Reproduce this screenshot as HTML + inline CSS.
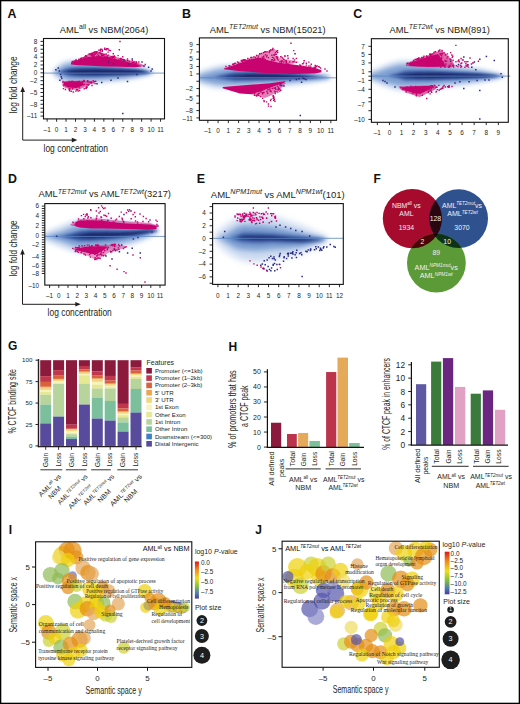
<!DOCTYPE html><html><head><meta charset="utf-8"><style>html,body{margin:0;padding:0;background:#fff;width:520px;height:704px;overflow:hidden}svg{display:block}</style></head><body>
<svg width="520" height="704" viewBox="0 0 520 704" font-family="'Liberation Sans', sans-serif" fill="#231f20">
<defs>
<filter id="bl1_3" x="-20%" y="-50%" width="140%" height="200%"><feGaussianBlur stdDeviation="1.3"/></filter>
<filter id="bl1_5" x="-20%" y="-50%" width="140%" height="200%"><feGaussianBlur stdDeviation="1.5"/></filter>
<filter id="bl1_6" x="-20%" y="-50%" width="140%" height="200%"><feGaussianBlur stdDeviation="1.6"/></filter>
<filter id="bl1_8" x="-20%" y="-50%" width="140%" height="200%"><feGaussianBlur stdDeviation="1.8"/></filter>
<filter id="bl2" x="-20%" y="-50%" width="140%" height="200%"><feGaussianBlur stdDeviation="2"/></filter>
<filter id="bl2_2" x="-20%" y="-50%" width="140%" height="200%"><feGaussianBlur stdDeviation="2.2"/></filter>
<filter id="bl2_5" x="-20%" y="-50%" width="140%" height="200%"><feGaussianBlur stdDeviation="2.5"/></filter>
<filter id="bl3" x="-20%" y="-50%" width="140%" height="200%"><feGaussianBlur stdDeviation="3"/></filter>
<filter id="bl3_5" x="-20%" y="-50%" width="140%" height="200%"><feGaussianBlur stdDeviation="3.5"/></filter>
</defs>
<rect width="520" height="704" fill="#fff"/>
<clipPath id="clipA"><rect x="43.5" y="38.5" width="121" height="80.4"/></clipPath>
<g clip-path="url(#clipA)">
<polygon points="53,70.5 57,66.2 61,63 66,61 72,60 80,60 95,61 110,62 125,63.5 138,66 145,68.2 150,70.5 154,72.3 154,73.3 150,74.5 145,76.2 138,78 125,80.5 110,82 95,83 80,84 72,84 66,83 61,81 57,78.2 53,74.5" fill="#cad9ef" filter="url(#bl2_5)"/>
<polygon points="53,72.5 57,70.2 61,67 66,64.5 72,63.5 80,63.5 95,64 110,65 125,66 138,68 145,69.7 150,71.5 154,72.8 154,72.8 150,73.5 145,74.7 138,76 125,78 110,79 95,80 80,80.5 72,80.5 66,79.5 61,77 57,74.2 53,72.5" fill="#7fa0d3" filter="url(#bl2)"/>
<polygon points="53,72.5 57,72.2 61,71.15 66,69.03 72,67.75 80,67.33 95,67.33 110,67.75 125,68.6 138,69.45 145,70.92 150,72.25 154,72.8 154,72.8 150,72.75 145,73.48 138,74.55 125,75.4 110,76.25 95,76.67 80,76.67 72,76.25 66,74.97 61,72.85 57,72.2 53,72.5" fill="#34549e" filter="url(#bl1_6)"/>
<polygon points="53,72.5 57,72.2 61,72 66,71.67 72,70.38 80,69.72 95,69.53 110,69.72 125,70.05 138,70.7 145,71.68 150,72.5 154,72.8 154,72.8 150,72.5 145,72.72 138,73.3 125,73.95 110,74.28 95,74.47 80,74.28 72,73.62 66,72.33 61,72 57,72.2 53,72.5" fill="#1c2767" filter="url(#bl1_3)"/>
</g>
<line x1="43.5" y1="73.1" x2="164.5" y2="73.1" stroke="#5b86c5" stroke-width="0.8"/>
<g clip-path="url(#clipA)">
<polygon points="80,59 88,54 96,51 100,52 105,54 112,56 122,58.5 132,61 140,63.5 146,66 142,66.5 130,62.5 110,57.5 100,56 90,56.5" fill="#c8036f" fill-opacity="0.6"/>
<polygon points="63,81 85,80.5 93,81 90,84 84,87.5 78,90 70,89.5 63,87" fill="#c8036f" fill-opacity="0.55"/>
<polygon points="71,63 80,59 90,56.5 100,56 110,57.5 120,60 130,62.5 138,64.5 142,66.5 135,67.2 120,66.8 105,66.5 90,65.8 78,65.2 71,64.5" fill="#c8036f"/>
<polygon points="64,82 72,81.3 80,81.5 84,82.5 82,86 76,88 68,87.5 64,85.5" fill="#c8036f"/>
<path d="M119.3 40.8h1.4v1.4h-1.4zM118.6 49h1.4v1.4h-1.4zM117.4 54.9h1.4v1.4h-1.4zM112.3 59.3h1.4v1.4h-1.4zM107.3 48.3h1.4v1.4h-1.4zM81.19 57.2h1.4v1.4h-1.4zM72.85 60.84h1.4v1.4h-1.4zM72.32 60.73h1.4v1.4h-1.4zM84.92 54.93h1.4v1.4h-1.4zM85.36 55.1h1.4v1.4h-1.4zM78.17 59.07h1.4v1.4h-1.4zM90.22 53.57h1.4v1.4h-1.4zM72.27 61.16h1.4v1.4h-1.4zM74.92 59.66h1.4v1.4h-1.4zM98.3 49.45h1.4v1.4h-1.4zM92.34 52.18h1.4v1.4h-1.4zM72.04 60.83h1.4v1.4h-1.4zM93.84 51.3h1.4v1.4h-1.4zM90.57 52.77h1.4v1.4h-1.4zM98.06 49.45h1.4v1.4h-1.4zM90.26 53.51h1.4v1.4h-1.4zM95.4 51.2h1.4v1.4h-1.4zM74.32 60.52h1.4v1.4h-1.4zM75.56 59.27h1.4v1.4h-1.4zM93.75 51.75h1.4v1.4h-1.4zM100.49 48.64h1.4v1.4h-1.4zM91 52.78h1.4v1.4h-1.4zM99.89 48.97h1.4v1.4h-1.4zM92.91 51.94h1.4v1.4h-1.4zM93.25 52.33h1.4v1.4h-1.4zM80.06 57.83h1.4v1.4h-1.4zM71.04 61.42h1.4v1.4h-1.4zM73.92 60.54h1.4v1.4h-1.4zM74.54 59.97h1.4v1.4h-1.4zM100.12 48.46h1.4v1.4h-1.4zM89.75 53.85h1.4v1.4h-1.4zM100.06 48.54h1.4v1.4h-1.4zM83.13 56.96h1.4v1.4h-1.4zM75.21 59.48h1.4v1.4h-1.4zM78.38 58.55h1.4v1.4h-1.4zM105.46 53.26h1.4v1.4h-1.4zM119.77 58.63h1.4v1.4h-1.4zM131.46 62.1h1.4v1.4h-1.4zM104.03 48.61h1.4v1.4h-1.4zM100.31 53.17h1.4v1.4h-1.4zM85.86 56.31h1.4v1.4h-1.4zM101.7 49.72h1.4v1.4h-1.4zM133.34 61.12h1.4v1.4h-1.4zM112.57 53.02h1.4v1.4h-1.4zM95.42 51.34h1.4v1.4h-1.4zM101.55 50.66h1.4v1.4h-1.4zM90.01 57.72h1.4v1.4h-1.4zM109.82 58.23h1.4v1.4h-1.4zM131.63 59.93h1.4v1.4h-1.4zM109.72 49.92h1.4v1.4h-1.4zM103.8 53.82h1.4v1.4h-1.4zM122.08 56.02h1.4v1.4h-1.4zM138.07 61.26h1.4v1.4h-1.4zM96.39 51.01h1.4v1.4h-1.4zM105.47 49.09h1.4v1.4h-1.4zM108.29 57.01h1.4v1.4h-1.4zM113.59 55.96h1.4v1.4h-1.4zM109.39 59.49h1.4v1.4h-1.4zM112.62 56.52h1.4v1.4h-1.4zM111.86 56.63h1.4v1.4h-1.4zM107.21 57.52h1.4v1.4h-1.4zM111.7 55.76h1.4v1.4h-1.4zM113.7 55.17h1.4v1.4h-1.4zM93.99 56.59h1.4v1.4h-1.4zM107.13 48.07h1.4v1.4h-1.4zM123.5 60.52h1.4v1.4h-1.4zM126.86 58.35h1.4v1.4h-1.4zM106.37 55.82h1.4v1.4h-1.4zM99.72 50.23h1.4v1.4h-1.4zM98.23 59.44h1.4v1.4h-1.4zM99.17 57.72h1.4v1.4h-1.4zM105.92 48.07h1.4v1.4h-1.4zM99.72 56.48h1.4v1.4h-1.4zM84.6 56.02h1.4v1.4h-1.4zM96.18 55.55h1.4v1.4h-1.4zM106.42 55.46h1.4v1.4h-1.4zM111.78 58.84h1.4v1.4h-1.4zM135.87 62.03h1.4v1.4h-1.4zM92.74 51.93h1.4v1.4h-1.4zM108.38 49.56h1.4v1.4h-1.4zM107.4 51.41h1.4v1.4h-1.4zM144.55 63.82h1.4v1.4h-1.4zM102.78 55.11h1.4v1.4h-1.4zM104.06 47.53h1.4v1.4h-1.4zM92.06 57.05h1.4v1.4h-1.4zM113.4 59.93h1.4v1.4h-1.4zM122.64 59.33h1.4v1.4h-1.4zM135.44 62.41h1.4v1.4h-1.4zM120.47 59.64h1.4v1.4h-1.4zM113.01 55.63h1.4v1.4h-1.4zM135.42 60.88h1.4v1.4h-1.4zM101.27 48.64h1.4v1.4h-1.4zM120.5 57.76h1.4v1.4h-1.4zM113.83 58.34h1.4v1.4h-1.4zM94.42 59.56h1.4v1.4h-1.4zM124.98 60.44h1.4v1.4h-1.4zM109.97 57.3h1.4v1.4h-1.4zM97.03 53.45h1.4v1.4h-1.4zM111.75 57.06h1.4v1.4h-1.4zM99.23 52.41h1.4v1.4h-1.4zM102 55.04h1.4v1.4h-1.4zM107.55 54.43h1.4v1.4h-1.4zM91.83 55.9h1.4v1.4h-1.4zM101.98 54.77h1.4v1.4h-1.4zM89.97 53.42h1.4v1.4h-1.4zM88.51 53.19h1.4v1.4h-1.4zM85.29 55.43h1.4v1.4h-1.4zM106.54 56.51h1.4v1.4h-1.4zM113.9 55.95h1.4v1.4h-1.4zM93.55 54.37h1.4v1.4h-1.4zM95.7 51.94h1.4v1.4h-1.4zM126.93 60.01h1.4v1.4h-1.4zM99.35 52.22h1.4v1.4h-1.4zM80.74 57.77h1.4v1.4h-1.4zM94.53 53.62h1.4v1.4h-1.4zM91.66 53.65h1.4v1.4h-1.4zM101.03 53.08h1.4v1.4h-1.4zM104.29 55.91h1.4v1.4h-1.4zM101.19 52.84h1.4v1.4h-1.4zM92.99 55.65h1.4v1.4h-1.4zM133.52 62.63h1.4v1.4h-1.4zM110.55 55.89h1.4v1.4h-1.4zM132.88 61.8h1.4v1.4h-1.4zM100.93 55.09h1.4v1.4h-1.4zM92.45 54.01h1.4v1.4h-1.4zM95.49 52.6h1.4v1.4h-1.4zM98.68 52.09h1.4v1.4h-1.4zM92.76 54.12h1.4v1.4h-1.4zM91.52 54.98h1.4v1.4h-1.4zM85.99 56.23h1.4v1.4h-1.4zM98 54.91h1.4v1.4h-1.4zM135.16 62.74h1.4v1.4h-1.4zM91.38 53.57h1.4v1.4h-1.4zM120.15 57.64h1.4v1.4h-1.4zM91.32 52.72h1.4v1.4h-1.4zM102.87 53.66h1.4v1.4h-1.4zM117.82 59.14h1.4v1.4h-1.4zM121.87 58.73h1.4v1.4h-1.4zM114.38 56.39h1.4v1.4h-1.4zM94.99 51.18h1.4v1.4h-1.4zM88.69 53.29h1.4v1.4h-1.4zM119.43 57.9h1.4v1.4h-1.4zM90.83 54.94h1.4v1.4h-1.4zM128.78 60.73h1.4v1.4h-1.4zM100.98 53.89h1.4v1.4h-1.4zM85.55 87.62h1.4v1.4h-1.4zM91.31 84.77h1.4v1.4h-1.4zM86.66 86.43h1.4v1.4h-1.4zM72.07 81.95h1.4v1.4h-1.4zM83.09 80.27h1.4v1.4h-1.4zM93.18 81.11h1.4v1.4h-1.4zM62.24 80.63h1.4v1.4h-1.4zM62.76 87.96h1.4v1.4h-1.4zM83.49 88.01h1.4v1.4h-1.4zM87.09 80.12h1.4v1.4h-1.4zM81.97 83.84h1.4v1.4h-1.4zM92.49 80.12h1.4v1.4h-1.4zM94.35 80.64h1.4v1.4h-1.4zM68.5 80.7h1.4v1.4h-1.4zM71.36 80.55h1.4v1.4h-1.4zM64.73 88.77h1.4v1.4h-1.4zM68.47 83.29h1.4v1.4h-1.4zM70.28 82.83h1.4v1.4h-1.4zM86.35 83.9h1.4v1.4h-1.4zM72.53 91.35h1.4v1.4h-1.4zM78.93 89.94h1.4v1.4h-1.4zM82.94 79.69h1.4v1.4h-1.4zM75.75 84.76h1.4v1.4h-1.4zM88.36 83.63h1.4v1.4h-1.4zM85.96 86.02h1.4v1.4h-1.4zM68.88 90.08h1.4v1.4h-1.4zM68.37 88.83h1.4v1.4h-1.4zM78.48 85.44h1.4v1.4h-1.4zM89.19 81.61h1.4v1.4h-1.4zM78.61 83.64h1.4v1.4h-1.4zM90.41 82.56h1.4v1.4h-1.4zM94.34 82.85h1.4v1.4h-1.4zM68.82 88.04h1.4v1.4h-1.4zM78.74 80.67h1.4v1.4h-1.4zM83.58 80.31h1.4v1.4h-1.4zM73.75 84.32h1.4v1.4h-1.4zM75.11 90.43h1.4v1.4h-1.4zM62.18 81.88h1.4v1.4h-1.4zM70.51 90.57h1.4v1.4h-1.4zM78.84 84.04h1.4v1.4h-1.4zM92.24 82.22h1.4v1.4h-1.4zM77.43 85.94h1.4v1.4h-1.4zM83.92 83.66h1.4v1.4h-1.4zM72.73 81.24h1.4v1.4h-1.4zM87.27 81.42h1.4v1.4h-1.4zM76.66 88.97h1.4v1.4h-1.4zM81.57 80.88h1.4v1.4h-1.4zM77.47 90.36h1.4v1.4h-1.4zM69.63 81.69h1.4v1.4h-1.4zM71.85 88.09h1.4v1.4h-1.4zM90.83 81.23h1.4v1.4h-1.4zM66.76 82.39h1.4v1.4h-1.4zM72.73 85.83h1.4v1.4h-1.4zM66.93 83.4h1.4v1.4h-1.4zM86.81 80.57h1.4v1.4h-1.4zM94.98 80.57h1.4v1.4h-1.4zM76.52 81.75h1.4v1.4h-1.4zM83.63 80.64h1.4v1.4h-1.4zM68.53 84.15h1.4v1.4h-1.4zM62.49 84.29h1.4v1.4h-1.4zM78.82 87.2h1.4v1.4h-1.4zM77.51 81.07h1.4v1.4h-1.4zM82.43 84.36h1.4v1.4h-1.4zM76.35 86.47h1.4v1.4h-1.4zM87.52 84.56h1.4v1.4h-1.4zM69.3 88.33h1.4v1.4h-1.4zM85.09 87.32h1.4v1.4h-1.4zM77.19 83.21h1.4v1.4h-1.4zM83.29 80.52h1.4v1.4h-1.4zM75.99 89.08h1.4v1.4h-1.4z" fill="#c8036f"/>
<path d="M55.15 68.95h1.5v1.5h-1.5zM57.55 67.25h1.5v1.5h-1.5zM58.65 70.15h1.5v1.5h-1.5zM59.85 73.65h1.5v1.5h-1.5zM60.55 75.95h1.5v1.5h-1.5zM61.05 77.65h1.5v1.5h-1.5zM59.15 79.55h1.5v1.5h-1.5zM143.25 65.45h1.5v1.5h-1.5zM147.85 66.55h1.5v1.5h-1.5zM151.45 68.25h1.5v1.5h-1.5zM150.25 70.15h1.5v1.5h-1.5zM136.15 73.65h1.5v1.5h-1.5zM126.75 80.65h1.5v1.5h-1.5zM122.05 112.85h1.5v1.5h-1.5zM112.65 63.05h1.5v1.5h-1.5zM110.25 79.55h1.5v1.5h-1.5zM117.25 77.15h1.5v1.5h-1.5zM96.25 83.05h1.5v1.5h-1.5zM100.95 81.85h1.5v1.5h-1.5zM131.45 58.35h1.5v1.5h-1.5zM127.95 63.05h1.5v1.5h-1.5zM107.75 61.25h1.5v1.5h-1.5zM123.25 59.25h1.5v1.5h-1.5zM141.25 61.25h1.5v1.5h-1.5z" fill="#2b2a86"/>
</g>
<rect x="43.5" y="38.5" width="121" height="80.4" fill="none" stroke="#111" stroke-width="1.1"/>
<line x1="47.15" y1="118.9" x2="47.15" y2="121.7" stroke="#111" stroke-width="0.9"/>
<text x="47.15" y="132" font-size="6.4" text-anchor="middle">–1</text>
<line x1="56.6" y1="118.9" x2="56.6" y2="121.7" stroke="#111" stroke-width="0.9"/>
<text x="56.6" y="132" font-size="6.4" text-anchor="middle">0</text>
<line x1="66.05" y1="118.9" x2="66.05" y2="121.7" stroke="#111" stroke-width="0.9"/>
<text x="66.05" y="132" font-size="6.4" text-anchor="middle">1</text>
<line x1="75.5" y1="118.9" x2="75.5" y2="121.7" stroke="#111" stroke-width="0.9"/>
<text x="75.5" y="132" font-size="6.4" text-anchor="middle">2</text>
<line x1="84.95" y1="118.9" x2="84.95" y2="121.7" stroke="#111" stroke-width="0.9"/>
<text x="84.95" y="132" font-size="6.4" text-anchor="middle">3</text>
<line x1="94.4" y1="118.9" x2="94.4" y2="121.7" stroke="#111" stroke-width="0.9"/>
<text x="94.4" y="132" font-size="6.4" text-anchor="middle">4</text>
<line x1="103.85" y1="118.9" x2="103.85" y2="121.7" stroke="#111" stroke-width="0.9"/>
<text x="103.85" y="132" font-size="6.4" text-anchor="middle">5</text>
<line x1="113.3" y1="118.9" x2="113.3" y2="121.7" stroke="#111" stroke-width="0.9"/>
<text x="113.3" y="132" font-size="6.4" text-anchor="middle">6</text>
<line x1="122.75" y1="118.9" x2="122.75" y2="121.7" stroke="#111" stroke-width="0.9"/>
<text x="122.75" y="132" font-size="6.4" text-anchor="middle">7</text>
<line x1="132.2" y1="118.9" x2="132.2" y2="121.7" stroke="#111" stroke-width="0.9"/>
<text x="132.2" y="132" font-size="6.4" text-anchor="middle">8</text>
<line x1="141.65" y1="118.9" x2="141.65" y2="121.7" stroke="#111" stroke-width="0.9"/>
<text x="141.65" y="132" font-size="6.4" text-anchor="middle">9</text>
<line x1="151.1" y1="118.9" x2="151.1" y2="121.7" stroke="#111" stroke-width="0.9"/>
<text x="151.1" y="132" font-size="6.4" text-anchor="middle">10</text>
<line x1="160.55" y1="118.9" x2="160.55" y2="121.7" stroke="#111" stroke-width="0.9"/>
<text x="160.55" y="132" font-size="6.4" text-anchor="middle">11</text>
<line x1="40.5" y1="41.4" x2="43.5" y2="41.4" stroke="#111" stroke-width="0.9"/>
<line x1="40.5" y1="45.33" x2="43.5" y2="45.33" stroke="#111" stroke-width="0.9"/>
<line x1="40.5" y1="49.26" x2="43.5" y2="49.26" stroke="#111" stroke-width="0.9"/>
<line x1="40.5" y1="53.19" x2="43.5" y2="53.19" stroke="#111" stroke-width="0.9"/>
<line x1="40.5" y1="57.12" x2="43.5" y2="57.12" stroke="#111" stroke-width="0.9"/>
<line x1="40.5" y1="61.05" x2="43.5" y2="61.05" stroke="#111" stroke-width="0.9"/>
<line x1="40.5" y1="64.98" x2="43.5" y2="64.98" stroke="#111" stroke-width="0.9"/>
<line x1="40.5" y1="68.91" x2="43.5" y2="68.91" stroke="#111" stroke-width="0.9"/>
<line x1="40.5" y1="72.84" x2="43.5" y2="72.84" stroke="#111" stroke-width="0.9"/>
<line x1="40.5" y1="76.77" x2="43.5" y2="76.77" stroke="#111" stroke-width="0.9"/>
<line x1="40.5" y1="80.7" x2="43.5" y2="80.7" stroke="#111" stroke-width="0.9"/>
<line x1="40.5" y1="84.63" x2="43.5" y2="84.63" stroke="#111" stroke-width="0.9"/>
<line x1="40.5" y1="88.56" x2="43.5" y2="88.56" stroke="#111" stroke-width="0.9"/>
<line x1="40.5" y1="92.49" x2="43.5" y2="92.49" stroke="#111" stroke-width="0.9"/>
<line x1="40.5" y1="96.42" x2="43.5" y2="96.42" stroke="#111" stroke-width="0.9"/>
<line x1="40.5" y1="100.35" x2="43.5" y2="100.35" stroke="#111" stroke-width="0.9"/>
<line x1="40.5" y1="104.28" x2="43.5" y2="104.28" stroke="#111" stroke-width="0.9"/>
<line x1="40.5" y1="108.21" x2="43.5" y2="108.21" stroke="#111" stroke-width="0.9"/>
<line x1="40.5" y1="112.14" x2="43.5" y2="112.14" stroke="#111" stroke-width="0.9"/>
<line x1="40.5" y1="116.07" x2="43.5" y2="116.07" stroke="#111" stroke-width="0.9"/>
<text x="37.2" y="43.7" font-size="6.4" text-anchor="end">8</text>
<text x="37.2" y="51.56" font-size="6.4" text-anchor="end">6</text>
<text x="37.2" y="59.42" font-size="6.4" text-anchor="end">4</text>
<text x="37.2" y="67.28" font-size="6.4" text-anchor="end">2</text>
<text x="37.2" y="75.14" font-size="6.4" text-anchor="end">0</text>
<text x="37.2" y="83" font-size="6.4" text-anchor="end">–2</text>
<text x="37.2" y="94.79" font-size="6.4" text-anchor="end">–5</text>
<text x="37.2" y="106.58" font-size="6.4" text-anchor="end">–8</text>
<text x="37.2" y="118.37" font-size="6.4" text-anchor="end">–11</text>
<text x="7.6" y="18.4" font-size="12.4" font-weight="bold" fill="#111">A</text>
<text x="59.8" y="33.1" font-size="9.4" fill="#231f20" textLength="88.5" lengthAdjust="spacingAndGlyphs">AML<tspan font-size="7" dy="-3.6">all</tspan><tspan dy="3.6"> vs NBM(2064)</tspan></text>
<clipPath id="clipB"><rect x="199.4" y="37.9" width="137.1" height="82.4"/></clipPath>
<g clip-path="url(#clipB)">
<polygon points="197,72.8 205,69.5 215,66.2 225,64.8 235,64.5 250,64.8 270,65.8 290,67.5 305,69.8 318,72.7 330,75.5 330,79.5 318,81.7 305,83.8 290,85.5 270,86.8 250,87.8 235,88.5 225,88.8 215,88.2 205,85.5 197,82.8" fill="#cad9ef" filter="url(#bl2_5)"/>
<polygon points="197,76.3 205,73.5 215,70.7 225,68.8 235,68 250,68.3 270,69.3 290,71 305,72.8 318,74.7 330,77 330,78 318,79.7 305,80.8 290,82 270,83.3 250,84.3 235,85 225,84.8 215,83.7 205,81.5 197,79.3" fill="#7fa0d3" filter="url(#bl2)"/>
<polygon points="197,77.8 205,77.5 215,76.78 225,74.25 235,72.25 250,72.05 270,72.47 290,73.53 305,74.67 318,76.35 330,77.5 330,77.5 318,78.05 305,78.92 290,79.47 270,80.12 250,80.55 235,80.75 225,79.35 215,77.62 205,77.5 197,77.8" fill="#34549e" filter="url(#bl1_6)"/>
<polygon points="197,77.8 205,77.5 215,77.2 225,76.8 235,75.53 250,74.35 270,74.35 290,75.2 305,76.15 318,77.2 330,77.5 330,77.5 318,77.2 305,77.45 290,77.8 270,78.25 250,78.25 235,77.47 225,76.8 215,77.2 205,77.5 197,77.8" fill="#1c2767" filter="url(#bl1_3)"/>
</g>
<line x1="199.4" y1="77.8" x2="336.5" y2="77.8" stroke="#5b86c5" stroke-width="0.8"/>
<g clip-path="url(#clipB)">
<polygon points="224,67.8 273.8,48.6 276,50 275,55 280,58 290,60 300,62 291,64.2 278,62.5 267.4,60 259.5,57.5 251.6,59 238.5,63.5" fill="#c8036f" fill-opacity="0.45"/>
<polygon points="251.6,94.3 262,91 275,86 284,83 286,83 280,89 272,95 265,98 262,97.2" fill="#c8036f" fill-opacity="0.5"/>
<polygon points="224,68.5 238.5,63.5 251.6,59 259.5,57.5 267.4,60 278,62.5 291,64.2 304.3,66 314.8,67.8 321.4,70.3 321.4,72.2 314.8,73.5 291,74 264.8,73 238.5,70.9 224,69.2" fill="#c8036f"/>
<polygon points="222.7,86.9 250,84.8 270,83.3 285.8,81 284,83 275,86 262,91 251.6,94.3 240,93.5 230,90.5 222.7,88.2" fill="#c8036f"/>
<path d="M290.3 42.6h1.4v1.4h-1.4zM293 49.9h1.4v1.4h-1.4zM272 49.1h1.4v1.4h-1.4zM269.3 50.3h1.4v1.4h-1.4zM267.8 103.3h1.4v1.4h-1.4zM270.3 105.8h1.4v1.4h-1.4zM324.3 68.3h1.4v1.4h-1.4zM326.3 70.3h1.4v1.4h-1.4zM258.94 53.07h1.4v1.4h-1.4zM244.35 58.92h1.4v1.4h-1.4zM243.86 59.49h1.4v1.4h-1.4zM232.57 63.62h1.4v1.4h-1.4zM242.65 59.93h1.4v1.4h-1.4zM225.24 65.74h1.4v1.4h-1.4zM262.67 52.04h1.4v1.4h-1.4zM228.41 64.93h1.4v1.4h-1.4zM259.03 53.38h1.4v1.4h-1.4zM264.61 51.04h1.4v1.4h-1.4zM270.22 49.07h1.4v1.4h-1.4zM243.11 59h1.4v1.4h-1.4zM272.18 47.75h1.4v1.4h-1.4zM236.86 61.13h1.4v1.4h-1.4zM244.07 59.09h1.4v1.4h-1.4zM240.6 59.87h1.4v1.4h-1.4zM260.67 52.81h1.4v1.4h-1.4zM234.5 62.55h1.4v1.4h-1.4zM233.49 63.07h1.4v1.4h-1.4zM263.75 51.47h1.4v1.4h-1.4zM251.02 56.64h1.4v1.4h-1.4zM241.02 60.44h1.4v1.4h-1.4zM263.91 51.17h1.4v1.4h-1.4zM250.23 56.77h1.4v1.4h-1.4zM241.32 59.86h1.4v1.4h-1.4zM241.79 59.62h1.4v1.4h-1.4zM232.06 63.51h1.4v1.4h-1.4zM237.05 61.29h1.4v1.4h-1.4zM247.11 57.87h1.4v1.4h-1.4zM255.99 54.77h1.4v1.4h-1.4zM308.1 61.41h1.4v1.4h-1.4zM302.99 62.17h1.4v1.4h-1.4zM314.48 64.74h1.4v1.4h-1.4zM293.96 59.21h1.4v1.4h-1.4zM274.11 59.4h1.4v1.4h-1.4zM285.49 62.48h1.4v1.4h-1.4zM287.08 55.08h1.4v1.4h-1.4zM271.7 59.1h1.4v1.4h-1.4zM267.69 56.88h1.4v1.4h-1.4zM264.48 58.63h1.4v1.4h-1.4zM251.01 58.69h1.4v1.4h-1.4zM283.12 61.45h1.4v1.4h-1.4zM285.39 61.95h1.4v1.4h-1.4zM285.7 61.06h1.4v1.4h-1.4zM287.24 62.77h1.4v1.4h-1.4zM244.98 62.14h1.4v1.4h-1.4zM303.53 59.89h1.4v1.4h-1.4zM266.32 54.65h1.4v1.4h-1.4zM271.8 56.67h1.4v1.4h-1.4zM302.25 63.14h1.4v1.4h-1.4zM310.56 63.49h1.4v1.4h-1.4zM295.64 57.7h1.4v1.4h-1.4zM281.95 57.23h1.4v1.4h-1.4zM289.08 61.34h1.4v1.4h-1.4zM265.93 56.09h1.4v1.4h-1.4zM303.33 59.99h1.4v1.4h-1.4zM254.78 57.01h1.4v1.4h-1.4zM293.15 60.74h1.4v1.4h-1.4zM314.7 65.16h1.4v1.4h-1.4zM250.13 56.88h1.4v1.4h-1.4zM308.29 65.25h1.4v1.4h-1.4zM305.62 62.52h1.4v1.4h-1.4zM247.17 60.85h1.4v1.4h-1.4zM292.42 57.8h1.4v1.4h-1.4zM299.92 64.82h1.4v1.4h-1.4zM270.19 49.69h1.4v1.4h-1.4zM305.57 64.4h1.4v1.4h-1.4zM247.05 60.26h1.4v1.4h-1.4zM314.79 66.83h1.4v1.4h-1.4zM276.53 58.05h1.4v1.4h-1.4zM280.87 56.45h1.4v1.4h-1.4zM276.06 51h1.4v1.4h-1.4zM258.48 58.97h1.4v1.4h-1.4zM272.9 59.99h1.4v1.4h-1.4zM319.91 67.36h1.4v1.4h-1.4zM280.88 61.57h1.4v1.4h-1.4zM263.4 57.44h1.4v1.4h-1.4zM315.57 65.8h1.4v1.4h-1.4zM295.68 61.7h1.4v1.4h-1.4zM238.07 64.03h1.4v1.4h-1.4zM253.78 60.52h1.4v1.4h-1.4zM237.9 62.37h1.4v1.4h-1.4zM318.57 66.44h1.4v1.4h-1.4zM268.92 49.89h1.4v1.4h-1.4zM318.04 65.91h1.4v1.4h-1.4zM287.39 57.53h1.4v1.4h-1.4zM265.3 51.15h1.4v1.4h-1.4zM273.38 54.64h1.4v1.4h-1.4zM277.01 51.8h1.4v1.4h-1.4zM245.56 60.08h1.4v1.4h-1.4zM301.89 63.1h1.4v1.4h-1.4zM273.84 53.69h1.4v1.4h-1.4zM244.32 60.97h1.4v1.4h-1.4zM228.95 65.23h1.4v1.4h-1.4zM276.32 57.38h1.4v1.4h-1.4zM275.89 50.4h1.4v1.4h-1.4zM273.77 58.84h1.4v1.4h-1.4zM277.41 59.35h1.4v1.4h-1.4zM284.44 60.19h1.4v1.4h-1.4zM274.38 53.81h1.4v1.4h-1.4zM276.91 56.31h1.4v1.4h-1.4zM257.48 57.17h1.4v1.4h-1.4zM316.4 65.32h1.4v1.4h-1.4zM260.47 59.21h1.4v1.4h-1.4zM313.51 66.82h1.4v1.4h-1.4zM251.19 59.46h1.4v1.4h-1.4zM248.86 58.99h1.4v1.4h-1.4zM275.71 53.57h1.4v1.4h-1.4zM270.87 59.28h1.4v1.4h-1.4zM264.77 54h1.4v1.4h-1.4zM285.52 60.06h1.4v1.4h-1.4zM295.76 57.71h1.4v1.4h-1.4zM279.2 60.98h1.4v1.4h-1.4zM271.13 54.48h1.4v1.4h-1.4zM275.57 56.04h1.4v1.4h-1.4zM247.63 59.77h1.4v1.4h-1.4zM273.42 53.92h1.4v1.4h-1.4zM262.86 57.26h1.4v1.4h-1.4zM257.68 55.38h1.4v1.4h-1.4zM292.19 61.05h1.4v1.4h-1.4zM310 65.46h1.4v1.4h-1.4zM299.11 64.13h1.4v1.4h-1.4zM283.06 58.5h1.4v1.4h-1.4zM262.02 57.52h1.4v1.4h-1.4zM253.18 56.2h1.4v1.4h-1.4zM279.95 56.07h1.4v1.4h-1.4zM268.59 51.76h1.4v1.4h-1.4zM281.99 60.3h1.4v1.4h-1.4zM263.03 55.49h1.4v1.4h-1.4zM283.96 55.35h1.4v1.4h-1.4zM276.88 49.93h1.4v1.4h-1.4zM261.49 56.42h1.4v1.4h-1.4zM280.56 60.14h1.4v1.4h-1.4zM272.94 57.26h1.4v1.4h-1.4zM258.31 59.2h1.4v1.4h-1.4zM266.23 51.16h1.4v1.4h-1.4zM252.87 58.8h1.4v1.4h-1.4zM274.8 51.84h1.4v1.4h-1.4zM241.91 61.35h1.4v1.4h-1.4zM284.82 55.39h1.4v1.4h-1.4zM277.65 89.28h1.4v1.4h-1.4zM270.4 98.67h1.4v1.4h-1.4zM256.38 94.24h1.4v1.4h-1.4zM269.22 88.22h1.4v1.4h-1.4zM272.59 95.12h1.4v1.4h-1.4zM255.44 94.88h1.4v1.4h-1.4zM261.86 93h1.4v1.4h-1.4zM271.63 87.78h1.4v1.4h-1.4zM280.07 89.48h1.4v1.4h-1.4zM263.33 99.98h1.4v1.4h-1.4zM277.84 87.63h1.4v1.4h-1.4zM259.77 95.9h1.4v1.4h-1.4zM263.18 91.78h1.4v1.4h-1.4zM279.03 90.43h1.4v1.4h-1.4zM253.9 92.83h1.4v1.4h-1.4zM275.31 91.1h1.4v1.4h-1.4zM257.48 93.07h1.4v1.4h-1.4zM270.45 90.87h1.4v1.4h-1.4zM253.72 94.64h1.4v1.4h-1.4zM268.83 88.33h1.4v1.4h-1.4zM277.08 91.31h1.4v1.4h-1.4zM272.97 96.06h1.4v1.4h-1.4zM260.49 91.44h1.4v1.4h-1.4zM279.94 89.65h1.4v1.4h-1.4zM269.53 90.7h1.4v1.4h-1.4zM267.31 89.02h1.4v1.4h-1.4zM275.1 88.64h1.4v1.4h-1.4zM280.31 84.74h1.4v1.4h-1.4zM273.77 98.55h1.4v1.4h-1.4zM261.95 92.03h1.4v1.4h-1.4zM273.03 99.48h1.4v1.4h-1.4zM261.98 97.65h1.4v1.4h-1.4zM269.83 99.93h1.4v1.4h-1.4zM258.47 92.61h1.4v1.4h-1.4zM273.94 90.38h1.4v1.4h-1.4zM277.25 88.74h1.4v1.4h-1.4zM277.79 86.76h1.4v1.4h-1.4zM263.47 100.74h1.4v1.4h-1.4zM279.13 88.61h1.4v1.4h-1.4zM274.2 100.5h1.4v1.4h-1.4zM274.44 92.44h1.4v1.4h-1.4zM267.73 105.43h1.4v1.4h-1.4zM278.31 88.09h1.4v1.4h-1.4zM272.25 95.44h1.4v1.4h-1.4zM262.18 92h1.4v1.4h-1.4zM273.43 87.48h1.4v1.4h-1.4zM258 94.7h1.4v1.4h-1.4zM261.95 89.08h1.4v1.4h-1.4zM281.15 84.99h1.4v1.4h-1.4zM269.58 89.97h1.4v1.4h-1.4zM276.68 85.7h1.4v1.4h-1.4zM273.3 96.87h1.4v1.4h-1.4zM265.9 101.22h1.4v1.4h-1.4zM279.22 84.28h1.4v1.4h-1.4zM259.72 90.67h1.4v1.4h-1.4zM274.56 92.95h1.4v1.4h-1.4zM266.17 90.74h1.4v1.4h-1.4zM266.9 92.59h1.4v1.4h-1.4zM256.13 95.42h1.4v1.4h-1.4zM272.5 97.62h1.4v1.4h-1.4z" fill="#c8036f"/>
<path d="M295.65 78.85h1.5v1.5h-1.5zM298.25 78.05h1.5v1.5h-1.5zM302.25 77.55h1.5v1.5h-1.5zM300.85 81.45h1.5v1.5h-1.5zM303.55 78.05h1.5v1.5h-1.5zM294.25 53.05h1.5v1.5h-1.5zM299.55 114.85h1.5v1.5h-1.5zM279.85 83.25h1.5v1.5h-1.5zM274.55 87.25h1.5v1.5h-1.5zM289.25 79.75h1.5v1.5h-1.5zM305.25 78.75h1.5v1.5h-1.5zM283.25 85.25h1.5v1.5h-1.5z" fill="#2b2a86"/>
</g>
<rect x="199.4" y="37.9" width="137.1" height="82.4" fill="none" stroke="#111" stroke-width="1.1"/>
<line x1="207.85" y1="120.3" x2="207.85" y2="123.1" stroke="#111" stroke-width="0.9"/>
<text x="207.85" y="133.2" font-size="6.4" text-anchor="middle">–1</text>
<line x1="218.1" y1="120.3" x2="218.1" y2="123.1" stroke="#111" stroke-width="0.9"/>
<text x="218.1" y="133.2" font-size="6.4" text-anchor="middle">0</text>
<line x1="228.35" y1="120.3" x2="228.35" y2="123.1" stroke="#111" stroke-width="0.9"/>
<text x="228.35" y="133.2" font-size="6.4" text-anchor="middle">1</text>
<line x1="238.6" y1="120.3" x2="238.6" y2="123.1" stroke="#111" stroke-width="0.9"/>
<text x="238.6" y="133.2" font-size="6.4" text-anchor="middle">2</text>
<line x1="248.85" y1="120.3" x2="248.85" y2="123.1" stroke="#111" stroke-width="0.9"/>
<text x="248.85" y="133.2" font-size="6.4" text-anchor="middle">3</text>
<line x1="259.1" y1="120.3" x2="259.1" y2="123.1" stroke="#111" stroke-width="0.9"/>
<text x="259.1" y="133.2" font-size="6.4" text-anchor="middle">4</text>
<line x1="269.35" y1="120.3" x2="269.35" y2="123.1" stroke="#111" stroke-width="0.9"/>
<text x="269.35" y="133.2" font-size="6.4" text-anchor="middle">5</text>
<line x1="279.6" y1="120.3" x2="279.6" y2="123.1" stroke="#111" stroke-width="0.9"/>
<text x="279.6" y="133.2" font-size="6.4" text-anchor="middle">6</text>
<line x1="289.85" y1="120.3" x2="289.85" y2="123.1" stroke="#111" stroke-width="0.9"/>
<text x="289.85" y="133.2" font-size="6.4" text-anchor="middle">7</text>
<line x1="300.1" y1="120.3" x2="300.1" y2="123.1" stroke="#111" stroke-width="0.9"/>
<text x="300.1" y="133.2" font-size="6.4" text-anchor="middle">8</text>
<line x1="310.35" y1="120.3" x2="310.35" y2="123.1" stroke="#111" stroke-width="0.9"/>
<text x="310.35" y="133.2" font-size="6.4" text-anchor="middle">9</text>
<line x1="320.6" y1="120.3" x2="320.6" y2="123.1" stroke="#111" stroke-width="0.9"/>
<text x="320.6" y="133.2" font-size="6.4" text-anchor="middle">10</text>
<line x1="330.85" y1="120.3" x2="330.85" y2="123.1" stroke="#111" stroke-width="0.9"/>
<text x="330.85" y="133.2" font-size="6.4" text-anchor="middle">11</text>
<line x1="196.4" y1="44.6" x2="199.4" y2="44.6" stroke="#111" stroke-width="0.9"/>
<line x1="196.4" y1="51.93" x2="199.4" y2="51.93" stroke="#111" stroke-width="0.9"/>
<line x1="196.4" y1="59.26" x2="199.4" y2="59.26" stroke="#111" stroke-width="0.9"/>
<line x1="196.4" y1="66.59" x2="199.4" y2="66.59" stroke="#111" stroke-width="0.9"/>
<line x1="196.4" y1="73.92" x2="199.4" y2="73.92" stroke="#111" stroke-width="0.9"/>
<line x1="196.4" y1="81.25" x2="199.4" y2="81.25" stroke="#111" stroke-width="0.9"/>
<line x1="196.4" y1="88.58" x2="199.4" y2="88.58" stroke="#111" stroke-width="0.9"/>
<line x1="196.4" y1="95.91" x2="199.4" y2="95.91" stroke="#111" stroke-width="0.9"/>
<line x1="196.4" y1="103.24" x2="199.4" y2="103.24" stroke="#111" stroke-width="0.9"/>
<line x1="196.4" y1="110.57" x2="199.4" y2="110.57" stroke="#111" stroke-width="0.9"/>
<line x1="196.4" y1="117.9" x2="199.4" y2="117.9" stroke="#111" stroke-width="0.9"/>
<text x="192.8" y="46.9" font-size="6.4" text-anchor="end">9</text>
<text x="192.8" y="53.9" font-size="6.4" text-anchor="end">7</text>
<text x="192.8" y="61.3" font-size="6.4" text-anchor="end">5</text>
<text x="192.8" y="68.6" font-size="6.4" text-anchor="end">3</text>
<text x="192.8" y="75.9" font-size="6.4" text-anchor="end">1</text>
<text x="192.8" y="90.8" font-size="6.4" text-anchor="end">–2</text>
<text x="192.8" y="101.3" font-size="6.4" text-anchor="end">–5</text>
<text x="192.8" y="112.7" font-size="6.4" text-anchor="end">–8</text>
<text x="192.8" y="121.1" font-size="6.4" text-anchor="end">–11</text>
<text x="181.9" y="18.3" font-size="12.4" font-weight="bold" fill="#111">B</text>
<text x="209.8" y="32.6" font-size="9.4" fill="#231f20" textLength="115.9" lengthAdjust="spacingAndGlyphs">AML<tspan font-size="7" font-style="italic" dy="-3.6">TET2mut</tspan><tspan dy="3.6"> vs NBM(15021)</tspan></text>
<clipPath id="clipC"><rect x="371.4" y="38.7" width="136.9" height="83.6"/></clipPath>
<g clip-path="url(#clipC)">
<polygon points="369,72 378,68 388,63.8 398,60.5 405,60.5 415,60.5 430,61.5 445,63.5 465,66.2 480,68.8 492,71.5 500,74 505,75.2 505,76.8 500,78 492,80.5 480,82.8 465,85.2 445,87.5 430,89.5 415,90.5 405,90.5 398,90.5 388,87.8 378,84 369,80" fill="#cad9ef" filter="url(#bl2_5)"/>
<polygon points="369,74.5 378,72 388,68.3 398,65.5 405,65 415,65 430,65.5 445,67.5 465,69.7 480,71.3 492,73.5 500,75 505,76 505,76 500,77 492,78.5 480,80.3 465,81.7 445,83.5 430,85.5 415,86 405,86 398,85.5 388,83.3 378,80 369,77.5" fill="#7fa0d3" filter="url(#bl2)"/>
<polygon points="369,76 378,76 388,75.8 398,72.95 405,70.83 415,70.4 430,70.4 445,71.25 465,72.3 480,73.25 492,74.72 500,75.75 505,76 505,76 500,76.25 492,77.28 480,78.35 465,79.1 445,79.75 430,80.6 415,80.6 405,80.17 398,78.05 388,75.8 378,76 369,76" fill="#34549e" filter="url(#bl1_6)"/>
<polygon points="369,76 378,76 388,75.8 398,75.5 405,74.53 415,73.22 430,73.03 445,73.22 465,74.08 480,74.63 492,75.48 500,76 505,76 505,76 500,76 492,76.52 480,76.97 465,77.33 445,77.78 430,77.97 415,77.78 405,76.47 398,75.5 388,75.8 378,76 369,76" fill="#1c2767" filter="url(#bl1_3)"/>
</g>
<line x1="371.4" y1="76.1" x2="510.3" y2="76.1" stroke="#5b86c5" stroke-width="0.8"/>
<g clip-path="url(#clipC)">
<polygon points="405.8,63.2 442,50.2 446,54 452,60 455,66 450.8,67.5 420,67 406,66" fill="#c8036f" fill-opacity="0.6"/>
<polygon points="398.7,86.6 425,85.5 436,85.3 436,89 428,93 419.6,97 410,94 400,89" fill="#c8036f" fill-opacity="0.6"/>
<polygon points="408,63.5 420,59.5 432,55.5 438,54 441,58 444,63 446,66.5 430,66.8 410,66" fill="#c8036f"/>
<polygon points="401,87.5 412,86.5 425,86 432,86.5 428,90 420,94 412,92.5 403,89.5" fill="#c8036f"/>
<path d="M455.2 44.7h1.4v1.4h-1.4zM449.9 51.9h1.4v1.4h-1.4zM465.8 61.2h1.4v1.4h-1.4zM477.7 60.6h1.4v1.4h-1.4zM460.3 62.8h1.4v1.4h-1.4zM426 97.8h1.4v1.4h-1.4zM444.6 86.3h1.4v1.4h-1.4zM448.5 86.3h1.4v1.4h-1.4zM451.3 85.8h1.4v1.4h-1.4zM469.3 57.3h1.4v1.4h-1.4zM438.53 49.89h1.4v1.4h-1.4zM414.38 58.63h1.4v1.4h-1.4zM433.2 52.03h1.4v1.4h-1.4zM412.81 60.23h1.4v1.4h-1.4zM437.75 50.54h1.4v1.4h-1.4zM435.02 51.33h1.4v1.4h-1.4zM412.96 59.72h1.4v1.4h-1.4zM418.99 57.38h1.4v1.4h-1.4zM434.56 51.03h1.4v1.4h-1.4zM425.87 55.25h1.4v1.4h-1.4zM430.91 53.57h1.4v1.4h-1.4zM423.26 55.53h1.4v1.4h-1.4zM416.66 57.99h1.4v1.4h-1.4zM429.56 53.3h1.4v1.4h-1.4zM439.15 49.23h1.4v1.4h-1.4zM421.07 56.81h1.4v1.4h-1.4zM406.74 62.62h1.4v1.4h-1.4zM433.22 51.85h1.4v1.4h-1.4zM429.01 53.62h1.4v1.4h-1.4zM417.86 58.06h1.4v1.4h-1.4zM435.04 51.23h1.4v1.4h-1.4zM416.39 58.52h1.4v1.4h-1.4zM417.94 57.36h1.4v1.4h-1.4zM417.36 58.56h1.4v1.4h-1.4zM437.83 50.96h1.4v1.4h-1.4zM431.07 59.47h1.4v1.4h-1.4zM416.73 58.85h1.4v1.4h-1.4zM429.97 54.45h1.4v1.4h-1.4zM418.48 63.94h1.4v1.4h-1.4zM431.15 56.85h1.4v1.4h-1.4zM419.56 59.01h1.4v1.4h-1.4zM421.24 58.19h1.4v1.4h-1.4zM426.85 56.02h1.4v1.4h-1.4zM439.14 58.48h1.4v1.4h-1.4zM409.74 63.57h1.4v1.4h-1.4zM423.99 58.58h1.4v1.4h-1.4zM422.11 63.59h1.4v1.4h-1.4zM426.31 61.18h1.4v1.4h-1.4zM409.36 63.05h1.4v1.4h-1.4zM432.24 56.5h1.4v1.4h-1.4zM438.47 58.72h1.4v1.4h-1.4zM411.85 61.68h1.4v1.4h-1.4zM418.4 61.97h1.4v1.4h-1.4zM431.22 62.98h1.4v1.4h-1.4zM433.37 64.96h1.4v1.4h-1.4zM426.25 62.61h1.4v1.4h-1.4zM409.77 64.59h1.4v1.4h-1.4zM431.02 53.72h1.4v1.4h-1.4zM437.18 59.02h1.4v1.4h-1.4zM409.67 62.57h1.4v1.4h-1.4zM416.46 60.73h1.4v1.4h-1.4zM438.59 58.32h1.4v1.4h-1.4zM431.56 62.69h1.4v1.4h-1.4zM441.36 49.82h1.4v1.4h-1.4zM424.47 63.74h1.4v1.4h-1.4zM412.39 62.86h1.4v1.4h-1.4zM431.19 55.96h1.4v1.4h-1.4zM437.45 55.97h1.4v1.4h-1.4zM438.5 59.5h1.4v1.4h-1.4zM413.68 64.08h1.4v1.4h-1.4zM423.18 58.95h1.4v1.4h-1.4zM430.86 54.02h1.4v1.4h-1.4zM415.41 58.82h1.4v1.4h-1.4zM425.46 65.1h1.4v1.4h-1.4zM426.69 62.09h1.4v1.4h-1.4zM429.43 59.88h1.4v1.4h-1.4zM435.56 63.74h1.4v1.4h-1.4zM416.99 61.97h1.4v1.4h-1.4zM433.45 57.84h1.4v1.4h-1.4zM429.51 55.28h1.4v1.4h-1.4zM426.32 56.18h1.4v1.4h-1.4zM422.63 56.82h1.4v1.4h-1.4zM432.97 58.53h1.4v1.4h-1.4zM440.93 55.12h1.4v1.4h-1.4zM427.44 65.6h1.4v1.4h-1.4zM418.99 62.15h1.4v1.4h-1.4zM421.69 63.67h1.4v1.4h-1.4zM439.49 54.07h1.4v1.4h-1.4zM432.13 53.14h1.4v1.4h-1.4zM428.29 63.6h1.4v1.4h-1.4zM433.24 65.2h1.4v1.4h-1.4zM436.1 63.78h1.4v1.4h-1.4zM438.59 59.97h1.4v1.4h-1.4zM440.39 53.04h1.4v1.4h-1.4zM417.85 61.74h1.4v1.4h-1.4zM437.71 57.14h1.4v1.4h-1.4zM449.35 58.46h1.4v1.4h-1.4zM461.09 62.25h1.4v1.4h-1.4zM441.86 52.65h1.4v1.4h-1.4zM457.92 60.01h1.4v1.4h-1.4zM458.61 61.15h1.4v1.4h-1.4zM465.18 62.89h1.4v1.4h-1.4zM467.75 66.43h1.4v1.4h-1.4zM457.28 65.83h1.4v1.4h-1.4zM455.28 61.11h1.4v1.4h-1.4zM437.83 58.58h1.4v1.4h-1.4zM441.57 53.23h1.4v1.4h-1.4zM466.29 65.5h1.4v1.4h-1.4zM448.9 65.21h1.4v1.4h-1.4zM439.83 62.4h1.4v1.4h-1.4zM438.05 60.95h1.4v1.4h-1.4zM452.18 64.56h1.4v1.4h-1.4zM437.82 59.61h1.4v1.4h-1.4zM452.52 65.47h1.4v1.4h-1.4zM444.71 54.46h1.4v1.4h-1.4zM446.32 57.46h1.4v1.4h-1.4zM445.02 53.65h1.4v1.4h-1.4zM467.19 60.9h1.4v1.4h-1.4zM447.84 66.71h1.4v1.4h-1.4zM444.4 59.7h1.4v1.4h-1.4zM441.88 64.54h1.4v1.4h-1.4zM466.86 63.88h1.4v1.4h-1.4zM447.17 55.77h1.4v1.4h-1.4zM455.69 65h1.4v1.4h-1.4zM442.09 61.57h1.4v1.4h-1.4zM460.4 57.78h1.4v1.4h-1.4zM459.63 64.87h1.4v1.4h-1.4zM444.11 64.88h1.4v1.4h-1.4zM450.44 63.17h1.4v1.4h-1.4zM439.99 66.38h1.4v1.4h-1.4zM441.63 62.44h1.4v1.4h-1.4zM439.4 53.08h1.4v1.4h-1.4zM449.56 65.46h1.4v1.4h-1.4zM465.39 64.85h1.4v1.4h-1.4zM445.15 63.37h1.4v1.4h-1.4zM448.59 64.8h1.4v1.4h-1.4zM440.36 58.34h1.4v1.4h-1.4zM441 57.37h1.4v1.4h-1.4zM442.82 61.61h1.4v1.4h-1.4zM441.51 62.48h1.4v1.4h-1.4zM450.15 58.49h1.4v1.4h-1.4zM444.34 66.26h1.4v1.4h-1.4zM472.39 62.37h1.4v1.4h-1.4zM446.76 53.22h1.4v1.4h-1.4zM437.11 58.69h1.4v1.4h-1.4zM452.44 59.48h1.4v1.4h-1.4zM464.2 61.08h1.4v1.4h-1.4zM458.15 59.36h1.4v1.4h-1.4zM464.29 66.51h1.4v1.4h-1.4zM472.01 62.14h1.4v1.4h-1.4zM452.07 55.55h1.4v1.4h-1.4zM452.9 66.35h1.4v1.4h-1.4zM451.56 56.66h1.4v1.4h-1.4zM460.83 65.58h1.4v1.4h-1.4zM446 60.38h1.4v1.4h-1.4zM451.13 54.27h1.4v1.4h-1.4zM443.63 52.22h1.4v1.4h-1.4zM470.71 63.24h1.4v1.4h-1.4zM462.44 59.36h1.4v1.4h-1.4zM448.56 66.33h1.4v1.4h-1.4zM460.18 66.71h1.4v1.4h-1.4zM445.15 60.69h1.4v1.4h-1.4zM457.4 60.41h1.4v1.4h-1.4zM461.71 59.26h1.4v1.4h-1.4zM444.68 60.41h1.4v1.4h-1.4zM415.65 93.04h1.4v1.4h-1.4zM417.47 90.18h1.4v1.4h-1.4zM406.25 86.26h1.4v1.4h-1.4zM417.54 90.77h1.4v1.4h-1.4zM428.34 87.39h1.4v1.4h-1.4zM415.17 92.09h1.4v1.4h-1.4zM430.37 85.11h1.4v1.4h-1.4zM428.5 86.04h1.4v1.4h-1.4zM403.74 87.54h1.4v1.4h-1.4zM401.83 88.77h1.4v1.4h-1.4zM427.96 90.7h1.4v1.4h-1.4zM414.89 85.63h1.4v1.4h-1.4zM423.92 89.86h1.4v1.4h-1.4zM415.84 93.94h1.4v1.4h-1.4zM426.3 86.35h1.4v1.4h-1.4zM423.37 88.89h1.4v1.4h-1.4zM417.42 87.38h1.4v1.4h-1.4zM411.83 88.58h1.4v1.4h-1.4zM405.49 91.28h1.4v1.4h-1.4zM400.15 86.69h1.4v1.4h-1.4zM424.79 87.81h1.4v1.4h-1.4zM410.09 87.43h1.4v1.4h-1.4zM429.11 85.67h1.4v1.4h-1.4zM421.73 94.65h1.4v1.4h-1.4zM405.52 89.55h1.4v1.4h-1.4zM427.55 91.83h1.4v1.4h-1.4zM414.51 88.9h1.4v1.4h-1.4zM424.58 88.05h1.4v1.4h-1.4zM413.22 92.18h1.4v1.4h-1.4zM428.24 88.72h1.4v1.4h-1.4zM412.37 91.37h1.4v1.4h-1.4zM432.5 86.84h1.4v1.4h-1.4zM411.89 92.39h1.4v1.4h-1.4zM410.29 85.43h1.4v1.4h-1.4zM426.2 89.04h1.4v1.4h-1.4zM417.61 90.41h1.4v1.4h-1.4zM415.25 90.01h1.4v1.4h-1.4zM429.32 89.45h1.4v1.4h-1.4zM415.67 95.02h1.4v1.4h-1.4zM414.41 90.35h1.4v1.4h-1.4zM438.14 84.67h1.4v1.4h-1.4zM431.9 86.29h1.4v1.4h-1.4zM431 91.66h1.4v1.4h-1.4zM431.54 85.09h1.4v1.4h-1.4zM430.51 90.43h1.4v1.4h-1.4zM430.51 90.52h1.4v1.4h-1.4zM438.49 89.56h1.4v1.4h-1.4zM448.48 85.61h1.4v1.4h-1.4zM436.66 88.96h1.4v1.4h-1.4zM429.43 93.2h1.4v1.4h-1.4zM435.34 86.66h1.4v1.4h-1.4zM436.19 86.6h1.4v1.4h-1.4zM440.54 88.08h1.4v1.4h-1.4zM430.43 87.04h1.4v1.4h-1.4zM448.15 86.61h1.4v1.4h-1.4zM433.74 84.77h1.4v1.4h-1.4zM441.11 87.66h1.4v1.4h-1.4zM439.51 88.7h1.4v1.4h-1.4zM442.14 87.59h1.4v1.4h-1.4zM446.93 86.1h1.4v1.4h-1.4zM430.43 87.13h1.4v1.4h-1.4zM441.03 87.98h1.4v1.4h-1.4zM441.73 87.21h1.4v1.4h-1.4zM435.32 91.46h1.4v1.4h-1.4zM435.71 90.7h1.4v1.4h-1.4zM430.57 88.2h1.4v1.4h-1.4zM443.36 84.74h1.4v1.4h-1.4zM448.28 84.95h1.4v1.4h-1.4zM442.42 85.92h1.4v1.4h-1.4zM435.79 86.2h1.4v1.4h-1.4z" fill="#c8036f"/>
<path d="M382.25 79.65h1.5v1.5h-1.5zM386.25 82.25h1.5v1.5h-1.5zM394.25 86.25h1.5v1.5h-1.5zM384.25 80.75h1.5v1.5h-1.5zM457.75 63.75h1.5v1.5h-1.5zM463.05 56.35h1.5v1.5h-1.5zM479.05 58.45h1.5v1.5h-1.5zM485.65 55.85h1.5v1.5h-1.5zM493.55 59.75h1.5v1.5h-1.5zM471.05 66.45h1.5v1.5h-1.5zM475.05 69.05h1.5v1.5h-1.5zM459.15 81.05h1.5v1.5h-1.5zM463.05 87.65h1.5v1.5h-1.5zM468.35 81.05h1.5v1.5h-1.5zM476.35 79.65h1.5v1.5h-1.5zM479.05 89.75h1.5v1.5h-1.5zM484.25 79.15h1.5v1.5h-1.5zM488.25 79.15h1.5v1.5h-1.5zM500.25 73.05h1.5v1.5h-1.5zM501.55 76.55h1.5v1.5h-1.5zM479.05 118.15h1.5v1.5h-1.5zM449.85 60.55h1.5v1.5h-1.5zM473.65 61.15h1.5v1.5h-1.5zM467.25 64.25h1.5v1.5h-1.5zM454.25 82.25h1.5v1.5h-1.5z" fill="#2b2a86"/>
</g>
<rect x="371.4" y="38.7" width="136.9" height="83.6" fill="none" stroke="#111" stroke-width="1.1"/>
<line x1="377.35" y1="122.3" x2="377.35" y2="125.1" stroke="#111" stroke-width="0.9"/>
<text x="377.35" y="134.5" font-size="6.4" text-anchor="middle">–1</text>
<line x1="389.45" y1="122.3" x2="389.45" y2="125.1" stroke="#111" stroke-width="0.9"/>
<text x="389.45" y="134.5" font-size="6.4" text-anchor="middle">0</text>
<line x1="401.55" y1="122.3" x2="401.55" y2="125.1" stroke="#111" stroke-width="0.9"/>
<text x="401.55" y="134.5" font-size="6.4" text-anchor="middle">1</text>
<line x1="413.65" y1="122.3" x2="413.65" y2="125.1" stroke="#111" stroke-width="0.9"/>
<text x="413.65" y="134.5" font-size="6.4" text-anchor="middle">2</text>
<line x1="425.75" y1="122.3" x2="425.75" y2="125.1" stroke="#111" stroke-width="0.9"/>
<text x="425.75" y="134.5" font-size="6.4" text-anchor="middle">3</text>
<line x1="437.85" y1="122.3" x2="437.85" y2="125.1" stroke="#111" stroke-width="0.9"/>
<text x="437.85" y="134.5" font-size="6.4" text-anchor="middle">4</text>
<line x1="449.95" y1="122.3" x2="449.95" y2="125.1" stroke="#111" stroke-width="0.9"/>
<text x="449.95" y="134.5" font-size="6.4" text-anchor="middle">5</text>
<line x1="462.05" y1="122.3" x2="462.05" y2="125.1" stroke="#111" stroke-width="0.9"/>
<text x="462.05" y="134.5" font-size="6.4" text-anchor="middle">6</text>
<line x1="474.15" y1="122.3" x2="474.15" y2="125.1" stroke="#111" stroke-width="0.9"/>
<text x="474.15" y="134.5" font-size="6.4" text-anchor="middle">7</text>
<line x1="486.25" y1="122.3" x2="486.25" y2="125.1" stroke="#111" stroke-width="0.9"/>
<text x="486.25" y="134.5" font-size="6.4" text-anchor="middle">8</text>
<line x1="498.35" y1="122.3" x2="498.35" y2="125.1" stroke="#111" stroke-width="0.9"/>
<text x="498.35" y="134.5" font-size="6.4" text-anchor="middle">9</text>
<line x1="368.4" y1="46.3" x2="371.4" y2="46.3" stroke="#111" stroke-width="0.9"/>
<line x1="368.4" y1="54.4" x2="371.4" y2="54.4" stroke="#111" stroke-width="0.9"/>
<line x1="368.4" y1="62.9" x2="371.4" y2="62.9" stroke="#111" stroke-width="0.9"/>
<line x1="368.4" y1="71.8" x2="371.4" y2="71.8" stroke="#111" stroke-width="0.9"/>
<line x1="368.4" y1="76.2" x2="371.4" y2="76.2" stroke="#111" stroke-width="0.9"/>
<line x1="368.4" y1="80.4" x2="371.4" y2="80.4" stroke="#111" stroke-width="0.9"/>
<line x1="368.4" y1="89.3" x2="371.4" y2="89.3" stroke="#111" stroke-width="0.9"/>
<line x1="368.4" y1="97.7" x2="371.4" y2="97.7" stroke="#111" stroke-width="0.9"/>
<line x1="368.4" y1="101.8" x2="371.4" y2="101.8" stroke="#111" stroke-width="0.9"/>
<line x1="368.4" y1="110.7" x2="371.4" y2="110.7" stroke="#111" stroke-width="0.9"/>
<line x1="368.4" y1="119.4" x2="371.4" y2="119.4" stroke="#111" stroke-width="0.9"/>
<text x="364.8" y="48.6" font-size="6.4" text-anchor="end">7</text>
<text x="364.8" y="56.7" font-size="6.4" text-anchor="end">5</text>
<text x="364.8" y="65.2" font-size="6.4" text-anchor="end">3</text>
<text x="364.8" y="74.1" font-size="6.4" text-anchor="end">1</text>
<text x="364.8" y="82.7" font-size="6.4" text-anchor="end">–1</text>
<text x="364.8" y="91.6" font-size="6.4" text-anchor="end">–4</text>
<text x="364.8" y="107" font-size="6.4" text-anchor="end">–7</text>
<text x="364.8" y="121.7" font-size="6.4" text-anchor="end">–10</text>
<text x="353.3" y="18.3" font-size="12.4" font-weight="bold" fill="#111">C</text>
<text x="389.5" y="33.1" font-size="9.4" fill="#231f20" textLength="100.3" lengthAdjust="spacingAndGlyphs">AML<tspan font-size="7" font-style="italic" dy="-3.6">TET2wt</tspan><tspan dy="3.6"> vs NBM(891)</tspan></text>
<clipPath id="clipD"><rect x="44.8" y="203.6" width="120.3" height="81.5"/></clipPath>
<g clip-path="url(#clipD)">
<polygon points="43,233.5 52,229.5 62,225.5 72,221.2 80,219 90,218.5 105,219 118,220.5 132,222.5 145,224 152,226 158,228.5 158,232.5 152,236 145,240 132,244.5 118,248.5 105,251 90,252.5 80,253 72,251.2 62,247.5 52,243.5 43,239.5" fill="#cad9ef" filter="url(#bl2_5)"/>
<polygon points="43,236.5 52,234.5 62,231.5 72,227.2 80,225 90,224.5 105,224.5 118,225.5 132,226.5 145,227.5 152,228.5 158,229.5 158,231.5 152,233.5 145,236.5 132,240.5 118,243.5 105,245.5 90,246.5 80,247 72,245.2 62,241.5 52,238.5 43,236.5" fill="#7fa0d3" filter="url(#bl2)"/>
<polygon points="43,236.5 52,236.5 62,236.07 72,233.22 80,230.9 90,229.97 105,229.9 118,230.25 132,230.27 145,229.88 152,229.72 158,230.5 158,230.5 152,232.28 145,234.12 132,236.73 118,238.75 105,240.1 90,241.03 80,241.1 72,239.17 62,236.93 52,236.5 43,236.5" fill="#34549e" filter="url(#bl1_6)"/>
<polygon points="43,236.5 52,236.5 62,236.5 72,236.2 80,234.7 90,233.03 105,232.72 118,232.88 132,232.33 145,231.16 152,230.61 158,230.5 158,230.5 152,231.39 145,232.84 132,234.67 118,236.12 105,237.28 90,237.97 80,237.3 72,236.2 62,236.5 52,236.5 43,236.5" fill="#1c2767" filter="url(#bl1_3)"/>
</g>
<line x1="44.8" y1="236.4" x2="165.1" y2="236.4" stroke="#5b86c5" stroke-width="0.8"/>
<g clip-path="url(#clipD)">
<polygon points="70,224.5 80,219 100,218.5 112,220 130,221.5 150,223 158,225.5 157,227 72,226" fill="#c8036f" fill-opacity="0.45"/>
<polygon points="73,248.6 80,246.5 100,245 115,244.5 125,246 125,248 110,252 100,258 97,260.5 88,256 78,252 73,249.8" fill="#c8036f" fill-opacity="0.4"/>
<polygon points="75.2,222.5 79.9,220.6 91.5,220.2 103.1,220.8 114.8,222.5 126.4,223.5 138,224 149.7,224.6 156.6,226 156.6,229 147.3,229.7 138,229.2 126.4,228.9 114.8,228.7 103.1,228.6 91.5,228.5 79.9,227.5 75.2,226.3" fill="#c8036f"/>
<polygon points="76,249 85,247 100,246.2 108,246.5 104,250 96,254.5 90,253.5 80,251 76,250.3" fill="#c8036f"/>
<path d="M109.4 265.1h1.4v1.4h-1.4zM116.4 268.6h1.4v1.4h-1.4zM123.3 270.9h1.4v1.4h-1.4zM125.3 272.3h1.4v1.4h-1.4zM139.6 257h1.4v1.4h-1.4zM132.3 254.3h1.4v1.4h-1.4zM144.3 281.3h1.4v1.4h-1.4zM104.3 207.3h1.4v1.4h-1.4zM98.3 212.3h1.4v1.4h-1.4zM85.3 214.3h1.4v1.4h-1.4zM139.3 213.3h1.4v1.4h-1.4zM149.3 219.3h1.4v1.4h-1.4zM157.3 225.3h1.4v1.4h-1.4zM139.88 227.61h1.4v1.4h-1.4zM106.62 223.52h1.4v1.4h-1.4zM74.4 224.04h1.4v1.4h-1.4zM95.73 217.56h1.4v1.4h-1.4zM121.69 218.76h1.4v1.4h-1.4zM104.54 214.76h1.4v1.4h-1.4zM103.5 223.27h1.4v1.4h-1.4zM89.4 221.94h1.4v1.4h-1.4zM77.72 220.8h1.4v1.4h-1.4zM134.84 220.32h1.4v1.4h-1.4zM95.47 219.17h1.4v1.4h-1.4zM136.83 221.25h1.4v1.4h-1.4zM112.93 226.4h1.4v1.4h-1.4zM123.1 221.87h1.4v1.4h-1.4zM99.28 220.59h1.4v1.4h-1.4zM91.57 224.69h1.4v1.4h-1.4zM85.4 225.33h1.4v1.4h-1.4zM96.14 215.27h1.4v1.4h-1.4zM118.94 225.33h1.4v1.4h-1.4zM122.9 220.76h1.4v1.4h-1.4zM72.34 221.49h1.4v1.4h-1.4zM78.05 223.36h1.4v1.4h-1.4zM81.18 222.39h1.4v1.4h-1.4zM101.06 219.55h1.4v1.4h-1.4zM99.15 226.09h1.4v1.4h-1.4zM147.91 221.02h1.4v1.4h-1.4zM113.95 221.8h1.4v1.4h-1.4zM79.88 220.85h1.4v1.4h-1.4zM84.06 221.8h1.4v1.4h-1.4zM114.91 219.44h1.4v1.4h-1.4zM87.09 219.95h1.4v1.4h-1.4zM87.61 216.08h1.4v1.4h-1.4zM114.46 226.77h1.4v1.4h-1.4zM113.26 225.37h1.4v1.4h-1.4zM120.64 223.95h1.4v1.4h-1.4zM89.93 224.8h1.4v1.4h-1.4zM83.13 218h1.4v1.4h-1.4zM115.93 218.39h1.4v1.4h-1.4zM121.37 217.57h1.4v1.4h-1.4zM122.88 225.28h1.4v1.4h-1.4zM91.42 222.69h1.4v1.4h-1.4zM124.94 223.99h1.4v1.4h-1.4zM142.25 220.77h1.4v1.4h-1.4zM105.94 215.53h1.4v1.4h-1.4zM91.34 224.57h1.4v1.4h-1.4zM100.29 216.27h1.4v1.4h-1.4zM87.14 217.38h1.4v1.4h-1.4zM112.48 221.26h1.4v1.4h-1.4zM139.43 227.01h1.4v1.4h-1.4zM136.93 223.21h1.4v1.4h-1.4zM87.21 223.05h1.4v1.4h-1.4zM145.42 225.31h1.4v1.4h-1.4zM77.61 224.34h1.4v1.4h-1.4zM100.73 216.57h1.4v1.4h-1.4zM156.22 223.72h1.4v1.4h-1.4zM143.86 227.42h1.4v1.4h-1.4zM150.73 224.73h1.4v1.4h-1.4zM144.22 225.53h1.4v1.4h-1.4zM122.43 220.39h1.4v1.4h-1.4zM143.57 225.28h1.4v1.4h-1.4zM156.46 225.32h1.4v1.4h-1.4zM91.98 226.04h1.4v1.4h-1.4zM90.19 217.07h1.4v1.4h-1.4zM110.51 217.61h1.4v1.4h-1.4zM130.98 224.25h1.4v1.4h-1.4zM104.58 225.27h1.4v1.4h-1.4zM140.73 223.86h1.4v1.4h-1.4zM154.05 225.86h1.4v1.4h-1.4zM105.86 215.52h1.4v1.4h-1.4zM128.02 226.01h1.4v1.4h-1.4zM103.17 214.41h1.4v1.4h-1.4zM145.39 217.78h1.4v1.4h-1.4zM125.7 212.08h1.4v1.4h-1.4zM102.81 207.93h1.4v1.4h-1.4zM126.94 209.27h1.4v1.4h-1.4zM133.9 211.81h1.4v1.4h-1.4zM130.48 218.02h1.4v1.4h-1.4zM84.56 215.91h1.4v1.4h-1.4zM77.83 218.29h1.4v1.4h-1.4zM89.95 208.92h1.4v1.4h-1.4zM107.82 212.79h1.4v1.4h-1.4zM95.62 210.29h1.4v1.4h-1.4zM82.88 213.7h1.4v1.4h-1.4zM80.75 214.91h1.4v1.4h-1.4zM128.01 210.69h1.4v1.4h-1.4zM118.69 215.8h1.4v1.4h-1.4zM132.4 213.78h1.4v1.4h-1.4zM101.94 206.63h1.4v1.4h-1.4zM155.3 219.45h1.4v1.4h-1.4zM86.58 214.29h1.4v1.4h-1.4zM128.83 209.07h1.4v1.4h-1.4zM120.56 211.45h1.4v1.4h-1.4zM142.72 215.8h1.4v1.4h-1.4zM134.62 216.04h1.4v1.4h-1.4zM97.89 207.05h1.4v1.4h-1.4zM86.19 213.07h1.4v1.4h-1.4zM100.82 205.21h1.4v1.4h-1.4zM99.6 210.81h1.4v1.4h-1.4zM156.49 220.66h1.4v1.4h-1.4zM90.21 209.56h1.4v1.4h-1.4zM124.15 246.65h1.4v1.4h-1.4zM89.27 250.75h1.4v1.4h-1.4zM77.37 247.72h1.4v1.4h-1.4zM93.36 249.85h1.4v1.4h-1.4zM96.51 257.53h1.4v1.4h-1.4zM88.93 245.89h1.4v1.4h-1.4zM102.59 254.7h1.4v1.4h-1.4zM113.45 247.98h1.4v1.4h-1.4zM100.94 248.2h1.4v1.4h-1.4zM106.59 247.72h1.4v1.4h-1.4zM114.5 244h1.4v1.4h-1.4zM86.17 247.44h1.4v1.4h-1.4zM94.41 257.03h1.4v1.4h-1.4zM77.53 248.52h1.4v1.4h-1.4zM114.68 250.01h1.4v1.4h-1.4zM90.44 249.97h1.4v1.4h-1.4zM116.42 249.25h1.4v1.4h-1.4zM101.08 252.16h1.4v1.4h-1.4zM78.78 249.06h1.4v1.4h-1.4zM74.99 250.32h1.4v1.4h-1.4zM99.42 257.78h1.4v1.4h-1.4zM93.91 253.05h1.4v1.4h-1.4zM86.7 244.44h1.4v1.4h-1.4zM86.59 246.92h1.4v1.4h-1.4zM83.84 244.9h1.4v1.4h-1.4zM116.22 249.42h1.4v1.4h-1.4zM110.47 244.53h1.4v1.4h-1.4zM118.26 248.83h1.4v1.4h-1.4zM79.07 247.98h1.4v1.4h-1.4zM74.61 250.88h1.4v1.4h-1.4zM77.49 247.12h1.4v1.4h-1.4zM106.55 249.08h1.4v1.4h-1.4zM89.84 252.96h1.4v1.4h-1.4zM95.04 244.37h1.4v1.4h-1.4zM104.06 250.1h1.4v1.4h-1.4zM99.98 253.31h1.4v1.4h-1.4zM98.06 245.57h1.4v1.4h-1.4zM96.72 254.91h1.4v1.4h-1.4zM110.97 251.03h1.4v1.4h-1.4zM90.43 246.53h1.4v1.4h-1.4zM93.86 248.1h1.4v1.4h-1.4zM100.21 250.76h1.4v1.4h-1.4zM82.32 247.82h1.4v1.4h-1.4zM102.67 255.22h1.4v1.4h-1.4zM74.81 246.8h1.4v1.4h-1.4zM86.07 249.34h1.4v1.4h-1.4zM97.97 257.27h1.4v1.4h-1.4zM78.49 245.15h1.4v1.4h-1.4zM102.85 251.93h1.4v1.4h-1.4zM83.02 247.58h1.4v1.4h-1.4zM112.31 249.83h1.4v1.4h-1.4zM83.29 253.25h1.4v1.4h-1.4zM97.27 244.04h1.4v1.4h-1.4zM75.27 248.8h1.4v1.4h-1.4zM98.43 254.17h1.4v1.4h-1.4zM82.82 247.44h1.4v1.4h-1.4zM78.37 246.7h1.4v1.4h-1.4zM96.86 253.25h1.4v1.4h-1.4zM95.92 244.45h1.4v1.4h-1.4zM111.87 244.21h1.4v1.4h-1.4zM97.66 250.1h1.4v1.4h-1.4zM84.73 254.34h1.4v1.4h-1.4zM110.05 251.32h1.4v1.4h-1.4zM104.85 244.37h1.4v1.4h-1.4zM84.11 249.97h1.4v1.4h-1.4zM122.78 247.77h1.4v1.4h-1.4zM113.7 245.06h1.4v1.4h-1.4zM80.42 252.01h1.4v1.4h-1.4zM99.44 253.84h1.4v1.4h-1.4zM101.85 248.25h1.4v1.4h-1.4zM113.02 243.71h1.4v1.4h-1.4zM96.95 245.38h1.4v1.4h-1.4zM107.7 246.82h1.4v1.4h-1.4zM95.33 245.18h1.4v1.4h-1.4zM91.04 244.9h1.4v1.4h-1.4zM118.81 245.02h1.4v1.4h-1.4zM91.88 248.45h1.4v1.4h-1.4zM114 245.81h1.4v1.4h-1.4zM114.35 243.42h1.4v1.4h-1.4zM100.43 251.05h1.4v1.4h-1.4zM94.11 253.69h1.4v1.4h-1.4zM111.43 243.82h1.4v1.4h-1.4zM95.42 258.23h1.4v1.4h-1.4zM96.04 255.31h1.4v1.4h-1.4zM85.45 248.41h1.4v1.4h-1.4zM90.82 248.82h1.4v1.4h-1.4zM76.6 250.83h1.4v1.4h-1.4zM113.45 247.96h1.4v1.4h-1.4zM85.29 250.31h1.4v1.4h-1.4zM89.71 256.4h1.4v1.4h-1.4zM88.87 253.96h1.4v1.4h-1.4zM91.86 252.43h1.4v1.4h-1.4zM125.38 246.04h1.4v1.4h-1.4zM101.03 254.35h1.4v1.4h-1.4zM94.12 258.83h1.4v1.4h-1.4zM76.32 246.91h1.4v1.4h-1.4zM72.06 247.72h1.4v1.4h-1.4zM81.17 250.75h1.4v1.4h-1.4zM85.22 247.67h1.4v1.4h-1.4zM83.02 247.71h1.4v1.4h-1.4zM104.4 254.45h1.4v1.4h-1.4zM88.32 244.39h1.4v1.4h-1.4zM91.54 245.72h1.4v1.4h-1.4zM77.62 251.69h1.4v1.4h-1.4zM81.26 245h1.4v1.4h-1.4zM88.28 250.25h1.4v1.4h-1.4zM109.91 250.86h1.4v1.4h-1.4zM112.09 244.91h1.4v1.4h-1.4zM117.91 243.82h1.4v1.4h-1.4zM117.71 247.15h1.4v1.4h-1.4z" fill="#c8036f"/>
<path d="M130.25 210.35h1.5v1.5h-1.5zM114.05 248.75h1.5v1.5h-1.5zM118.65 251.05h1.5v1.5h-1.5zM120.95 244.15h1.5v1.5h-1.5zM126.85 252.25h1.5v1.5h-1.5zM131.45 247.55h1.5v1.5h-1.5zM139.55 252.25h1.5v1.5h-1.5zM132.65 238.25h1.5v1.5h-1.5zM137.25 236.65h1.5v1.5h-1.5zM151.25 231.35h1.5v1.5h-1.5zM107.05 219.65h1.5v1.5h-1.5zM123.25 213.85h1.5v1.5h-1.5zM55.85 235.55h1.5v1.5h-1.5zM105.25 255.25h1.5v1.5h-1.5zM111.25 258.25h1.5v1.5h-1.5z" fill="#2b2a86"/>
</g>
<rect x="44.8" y="203.6" width="120.3" height="81.5" fill="none" stroke="#111" stroke-width="1.1"/>
<line x1="49.6" y1="285.1" x2="49.6" y2="287.9" stroke="#111" stroke-width="0.9"/>
<text x="49.6" y="297.8" font-size="6.4" text-anchor="middle">–1</text>
<line x1="58.8" y1="285.1" x2="58.8" y2="287.9" stroke="#111" stroke-width="0.9"/>
<text x="58.8" y="297.8" font-size="6.4" text-anchor="middle">0</text>
<line x1="68" y1="285.1" x2="68" y2="287.9" stroke="#111" stroke-width="0.9"/>
<text x="68" y="297.8" font-size="6.4" text-anchor="middle">1</text>
<line x1="77.2" y1="285.1" x2="77.2" y2="287.9" stroke="#111" stroke-width="0.9"/>
<text x="77.2" y="297.8" font-size="6.4" text-anchor="middle">2</text>
<line x1="86.4" y1="285.1" x2="86.4" y2="287.9" stroke="#111" stroke-width="0.9"/>
<text x="86.4" y="297.8" font-size="6.4" text-anchor="middle">3</text>
<line x1="95.6" y1="285.1" x2="95.6" y2="287.9" stroke="#111" stroke-width="0.9"/>
<text x="95.6" y="297.8" font-size="6.4" text-anchor="middle">4</text>
<line x1="104.8" y1="285.1" x2="104.8" y2="287.9" stroke="#111" stroke-width="0.9"/>
<text x="104.8" y="297.8" font-size="6.4" text-anchor="middle">5</text>
<line x1="114" y1="285.1" x2="114" y2="287.9" stroke="#111" stroke-width="0.9"/>
<text x="114" y="297.8" font-size="6.4" text-anchor="middle">6</text>
<line x1="123.2" y1="285.1" x2="123.2" y2="287.9" stroke="#111" stroke-width="0.9"/>
<text x="123.2" y="297.8" font-size="6.4" text-anchor="middle">7</text>
<line x1="132.4" y1="285.1" x2="132.4" y2="287.9" stroke="#111" stroke-width="0.9"/>
<text x="132.4" y="297.8" font-size="6.4" text-anchor="middle">8</text>
<line x1="141.6" y1="285.1" x2="141.6" y2="287.9" stroke="#111" stroke-width="0.9"/>
<text x="141.6" y="297.8" font-size="6.4" text-anchor="middle">9</text>
<line x1="150.8" y1="285.1" x2="150.8" y2="287.9" stroke="#111" stroke-width="0.9"/>
<text x="150.8" y="297.8" font-size="6.4" text-anchor="middle">10</text>
<line x1="160" y1="285.1" x2="160" y2="287.9" stroke="#111" stroke-width="0.9"/>
<text x="160" y="297.8" font-size="6.4" text-anchor="middle">11</text>
<line x1="41.8" y1="206.1" x2="44.8" y2="206.1" stroke="#111" stroke-width="0.9"/>
<line x1="41.8" y1="208.51" x2="44.8" y2="208.51" stroke="#111" stroke-width="0.9"/>
<line x1="41.8" y1="210.91" x2="44.8" y2="210.91" stroke="#111" stroke-width="0.9"/>
<line x1="41.8" y1="213.32" x2="44.8" y2="213.32" stroke="#111" stroke-width="0.9"/>
<line x1="41.8" y1="215.73" x2="44.8" y2="215.73" stroke="#111" stroke-width="0.9"/>
<line x1="41.8" y1="218.13" x2="44.8" y2="218.13" stroke="#111" stroke-width="0.9"/>
<line x1="41.8" y1="220.54" x2="44.8" y2="220.54" stroke="#111" stroke-width="0.9"/>
<line x1="41.8" y1="222.95" x2="44.8" y2="222.95" stroke="#111" stroke-width="0.9"/>
<line x1="41.8" y1="225.36" x2="44.8" y2="225.36" stroke="#111" stroke-width="0.9"/>
<line x1="41.8" y1="227.76" x2="44.8" y2="227.76" stroke="#111" stroke-width="0.9"/>
<line x1="41.8" y1="230.17" x2="44.8" y2="230.17" stroke="#111" stroke-width="0.9"/>
<line x1="41.8" y1="232.58" x2="44.8" y2="232.58" stroke="#111" stroke-width="0.9"/>
<line x1="41.8" y1="234.98" x2="44.8" y2="234.98" stroke="#111" stroke-width="0.9"/>
<line x1="41.8" y1="237.39" x2="44.8" y2="237.39" stroke="#111" stroke-width="0.9"/>
<line x1="41.8" y1="239.8" x2="44.8" y2="239.8" stroke="#111" stroke-width="0.9"/>
<line x1="41.8" y1="242.2" x2="44.8" y2="242.2" stroke="#111" stroke-width="0.9"/>
<line x1="41.8" y1="244.61" x2="44.8" y2="244.61" stroke="#111" stroke-width="0.9"/>
<line x1="41.8" y1="247.02" x2="44.8" y2="247.02" stroke="#111" stroke-width="0.9"/>
<line x1="41.8" y1="249.43" x2="44.8" y2="249.43" stroke="#111" stroke-width="0.9"/>
<line x1="41.8" y1="251.83" x2="44.8" y2="251.83" stroke="#111" stroke-width="0.9"/>
<line x1="41.8" y1="254.24" x2="44.8" y2="254.24" stroke="#111" stroke-width="0.9"/>
<line x1="41.8" y1="256.65" x2="44.8" y2="256.65" stroke="#111" stroke-width="0.9"/>
<line x1="41.8" y1="259.05" x2="44.8" y2="259.05" stroke="#111" stroke-width="0.9"/>
<line x1="41.8" y1="261.46" x2="44.8" y2="261.46" stroke="#111" stroke-width="0.9"/>
<line x1="41.8" y1="263.87" x2="44.8" y2="263.87" stroke="#111" stroke-width="0.9"/>
<line x1="41.8" y1="266.27" x2="44.8" y2="266.27" stroke="#111" stroke-width="0.9"/>
<line x1="41.8" y1="268.68" x2="44.8" y2="268.68" stroke="#111" stroke-width="0.9"/>
<line x1="41.8" y1="271.09" x2="44.8" y2="271.09" stroke="#111" stroke-width="0.9"/>
<line x1="41.8" y1="273.5" x2="44.8" y2="273.5" stroke="#111" stroke-width="0.9"/>
<text x="39.1" y="208.4" font-size="6.4" text-anchor="end">6</text>
<text x="39.1" y="218.3" font-size="6.4" text-anchor="end">4</text>
<text x="39.1" y="227.9" font-size="6.4" text-anchor="end">2</text>
<text x="39.1" y="237.8" font-size="6.4" text-anchor="end">0</text>
<text x="39.1" y="247.1" font-size="6.4" text-anchor="end">–2</text>
<text x="39.1" y="259.2" font-size="6.4" text-anchor="end">–4</text>
<text x="39.1" y="267.5" font-size="6.4" text-anchor="end">–6</text>
<text x="39.1" y="275.8" font-size="6.4" text-anchor="end">–8</text>
<text x="39.1" y="287.7" font-size="6.4" text-anchor="end">–10</text>
<text x="7.9" y="182.9" font-size="12.4" font-weight="bold" fill="#111">D</text>
<text x="38.5" y="197.3" font-size="9.4" fill="#231f20" textLength="132.5" lengthAdjust="spacingAndGlyphs">AML<tspan font-size="7" font-style="italic" dy="-3.6">TET2mut</tspan><tspan dy="3.6"> vs AML</tspan><tspan font-size="7" font-style="italic" dy="-3.6">TET2wt</tspan><tspan dy="3.6">(3217)</tspan></text>
<clipPath id="clipE"><rect x="212.6" y="203.6" width="130.7" height="80.8"/></clipPath>
<g clip-path="url(#clipE)">
<polygon points="216,234 222,228 229,223.5 237,218 243,214.5 257,214 272,216 287,221 301,225.8 310,229.8 321,234.5 327,237.3 327,241.3 321,244.5 310,249.8 301,253.8 287,257 272,260 257,262 243,260.5 237,258 229,253.5 222,248 216,242" fill="#cad9ef" filter="url(#bl3_5)"/>
<polygon points="216,238 222,236 229,232.5 237,227 243,225 257,225 272,226.5 287,229.5 301,232.8 310,235.3 321,237.5 327,239.3 327,239.3 321,241.5 310,244.3 301,246.8 287,248.5 272,249.5 257,251 243,250 237,249 229,244.5 222,240 216,238" fill="#7fa0d3" filter="url(#bl2_5)"/>
<polygon points="216,238 222,238 229,238.5 237,235.45 243,232.82 257,232.9 272,233.75 287,235.6 301,236.83 310,237.68 321,238.65 327,239.3 327,239.3 321,240.35 310,241.93 301,242.78 287,242.4 272,242.25 257,243.1 243,242.18 237,240.55 229,238.5 222,238 216,238" fill="#34549e" filter="url(#bl2)"/>
<polygon points="216,238 222,238 229,238.5 237,238 243,236.53 257,236.18 272,236.57 287,237.7 301,238.63 310,239.02 321,239.31 327,239.3 327,239.3 321,239.69 310,240.58 301,240.97 287,240.3 272,239.43 257,239.82 243,238.47 237,238 229,238.5 222,238 216,238" fill="#1c2767" filter="url(#bl1_6)"/>
</g>
<line x1="212.6" y1="238.3" x2="343.3" y2="238.3" stroke="#5b86c5" stroke-width="0.8"/>
<g clip-path="url(#clipE)">
<path d="M252.7 207.3h1.4v1.4h-1.4zM267.7 207.3h1.4v1.4h-1.4zM272.9 213.1h1.4v1.4h-1.4zM275.8 220.3h1.4v1.4h-1.4zM249.3 260.2h1.4v1.4h-1.4zM253.2 263.2h1.4v1.4h-1.4zM256.5 264.5h1.4v1.4h-1.4zM262.1 267.8h1.4v1.4h-1.4zM265.9 269.6h1.4v1.4h-1.4zM279.8 267h1.4v1.4h-1.4zM278.6 263.7h1.4v1.4h-1.4zM263.3 268.3h1.4v1.4h-1.4zM260.3 266.3h1.4v1.4h-1.4zM270.92 220.74h1.4v1.4h-1.4zM262.81 213.91h1.4v1.4h-1.4zM262.31 217.93h1.4v1.4h-1.4zM262.39 212.65h1.4v1.4h-1.4zM262 217.71h1.4v1.4h-1.4zM249.3 219.69h1.4v1.4h-1.4zM239.39 220.54h1.4v1.4h-1.4zM244.37 215.06h1.4v1.4h-1.4zM256.31 211.75h1.4v1.4h-1.4zM244.22 220.65h1.4v1.4h-1.4zM245.85 215.25h1.4v1.4h-1.4zM266.95 213.21h1.4v1.4h-1.4zM241.83 213.15h1.4v1.4h-1.4zM250.2 215.05h1.4v1.4h-1.4zM261.52 216.43h1.4v1.4h-1.4zM262.5 221.17h1.4v1.4h-1.4zM252.59 211.81h1.4v1.4h-1.4zM253.54 219.55h1.4v1.4h-1.4zM254.4 212.56h1.4v1.4h-1.4zM243.45 216.02h1.4v1.4h-1.4zM249.19 216.4h1.4v1.4h-1.4zM274.51 217.51h1.4v1.4h-1.4zM266.05 217.62h1.4v1.4h-1.4zM274.82 217.12h1.4v1.4h-1.4zM243.85 212.52h1.4v1.4h-1.4zM271.35 213.06h1.4v1.4h-1.4zM236.96 213.75h1.4v1.4h-1.4zM273.96 216.29h1.4v1.4h-1.4zM265.48 211.27h1.4v1.4h-1.4zM253.23 214.43h1.4v1.4h-1.4zM242.33 218.92h1.4v1.4h-1.4zM249.19 211.86h1.4v1.4h-1.4zM262.03 216.99h1.4v1.4h-1.4zM234.38 216.41h1.4v1.4h-1.4zM265.88 217.28h1.4v1.4h-1.4zM243.6 216.79h1.4v1.4h-1.4zM259.92 218.76h1.4v1.4h-1.4zM239.68 220.75h1.4v1.4h-1.4zM271.02 215.08h1.4v1.4h-1.4zM243.28 218.07h1.4v1.4h-1.4zM252.62 212.13h1.4v1.4h-1.4zM241.73 220.04h1.4v1.4h-1.4zM258.97 222.51h1.4v1.4h-1.4zM250.99 219.13h1.4v1.4h-1.4zM243.56 216.5h1.4v1.4h-1.4zM255.81 222.63h1.4v1.4h-1.4zM254.95 223.19h1.4v1.4h-1.4zM260.63 213.11h1.4v1.4h-1.4zM269.99 212.92h1.4v1.4h-1.4zM247.46 215.59h1.4v1.4h-1.4zM248.4 218.99h1.4v1.4h-1.4zM234.31 215.16h1.4v1.4h-1.4zM240.43 221.06h1.4v1.4h-1.4zM244.65 216.2h1.4v1.4h-1.4zM258.02 219.55h1.4v1.4h-1.4zM239.36 213.43h1.4v1.4h-1.4zM256.28 217.86h1.4v1.4h-1.4zM243.61 212.48h1.4v1.4h-1.4zM259.07 216.18h1.4v1.4h-1.4zM251.29 221.85h1.4v1.4h-1.4zM262.42 221.48h1.4v1.4h-1.4zM274.75 215.6h1.4v1.4h-1.4zM246.04 214.06h1.4v1.4h-1.4zM251.78 217.18h1.4v1.4h-1.4zM270.65 220.79h1.4v1.4h-1.4zM262.05 216.97h1.4v1.4h-1.4zM238.43 213.47h1.4v1.4h-1.4zM262.26 217.92h1.4v1.4h-1.4zM268.55 221.98h1.4v1.4h-1.4zM258.39 212.66h1.4v1.4h-1.4zM263.75 213.62h1.4v1.4h-1.4zM243.71 215.06h1.4v1.4h-1.4zM256.35 219.11h1.4v1.4h-1.4zM236.53 219.94h1.4v1.4h-1.4zM260.77 216.43h1.4v1.4h-1.4zM250.09 219.4h1.4v1.4h-1.4zM250.21 218.54h1.4v1.4h-1.4zM249.55 213.51h1.4v1.4h-1.4zM240.42 215.89h1.4v1.4h-1.4zM255.1 214.01h1.4v1.4h-1.4zM251.48 215.22h1.4v1.4h-1.4zM249.89 219.09h1.4v1.4h-1.4zM238.11 213.91h1.4v1.4h-1.4zM240.03 214.33h1.4v1.4h-1.4zM244.24 215.8h1.4v1.4h-1.4zM237.01 217.33h1.4v1.4h-1.4zM243.12 218.49h1.4v1.4h-1.4zM244.92 213.47h1.4v1.4h-1.4zM250.17 213.33h1.4v1.4h-1.4zM252.17 219.74h1.4v1.4h-1.4zM249.43 217.83h1.4v1.4h-1.4zM250.81 220.98h1.4v1.4h-1.4zM239.62 219.08h1.4v1.4h-1.4zM241.92 214.23h1.4v1.4h-1.4zM253.37 217.51h1.4v1.4h-1.4zM253.99 220.11h1.4v1.4h-1.4zM248.25 213.68h1.4v1.4h-1.4zM251.26 214.39h1.4v1.4h-1.4zM239.11 218.41h1.4v1.4h-1.4zM241.13 218.56h1.4v1.4h-1.4zM242.68 216.76h1.4v1.4h-1.4zM242.34 215.77h1.4v1.4h-1.4zM245.83 214.26h1.4v1.4h-1.4zM249.03 218.42h1.4v1.4h-1.4zM241.08 219.32h1.4v1.4h-1.4zM251.33 215.05h1.4v1.4h-1.4zM246.12 213.59h1.4v1.4h-1.4zM255.74 217.12h1.4v1.4h-1.4zM236.43 213.26h1.4v1.4h-1.4zM250.54 215.46h1.4v1.4h-1.4z" fill="#c8036f"/>
<path d="M279.25 224.55h1.5v1.5h-1.5zM284.85 226.35h1.5v1.5h-1.5zM289.95 227.65h1.5v1.5h-1.5zM295.05 229.65h1.5v1.5h-1.5zM301.35 230.65h1.5v1.5h-1.5zM308.95 235.25h1.5v1.5h-1.5zM223.95 230.65h1.5v1.5h-1.5zM222.65 236.55h1.5v1.5h-1.5zM301.35 275.85h1.5v1.5h-1.5zM275.25 226.25h1.5v1.5h-1.5zM313.74 248.9h1.5v1.5h-1.5zM266.41 259.25h1.5v1.5h-1.5zM273.79 262.78h1.5v1.5h-1.5zM307.43 249.24h1.5v1.5h-1.5zM278.9 254.53h1.5v1.5h-1.5zM261.6 263.26h1.5v1.5h-1.5zM309.6 249.81h1.5v1.5h-1.5zM263.48 259.92h1.5v1.5h-1.5zM268.34 256.95h1.5v1.5h-1.5zM298.87 252.77h1.5v1.5h-1.5zM296 249.58h1.5v1.5h-1.5zM310.06 248.68h1.5v1.5h-1.5zM283.44 256.08h1.5v1.5h-1.5zM287.5 255.21h1.5v1.5h-1.5zM306.32 250.95h1.5v1.5h-1.5zM264.46 264.02h1.5v1.5h-1.5zM266.4 270.19h1.5v1.5h-1.5zM317.61 246.17h1.5v1.5h-1.5zM271.71 257.67h1.5v1.5h-1.5zM322.56 247.15h1.5v1.5h-1.5zM272.45 264.43h1.5v1.5h-1.5zM291.61 252.05h1.5v1.5h-1.5zM333.1 245.64h1.5v1.5h-1.5zM278.98 263.73h1.5v1.5h-1.5zM305.16 250.62h1.5v1.5h-1.5zM315.03 246.01h1.5v1.5h-1.5zM273.97 270.04h1.5v1.5h-1.5zM267.38 265.84h1.5v1.5h-1.5zM278.64 255.86h1.5v1.5h-1.5zM334.53 246.56h1.5v1.5h-1.5zM272.38 263.85h1.5v1.5h-1.5zM260.04 264.39h1.5v1.5h-1.5zM279.46 252.86h1.5v1.5h-1.5zM287.72 252.48h1.5v1.5h-1.5zM276.51 268.63h1.5v1.5h-1.5zM321.04 249.59h1.5v1.5h-1.5zM323.07 246.12h1.5v1.5h-1.5zM300.22 252.01h1.5v1.5h-1.5zM326.04 246.28h1.5v1.5h-1.5zM262.9 267.48h1.5v1.5h-1.5zM319.79 248.84h1.5v1.5h-1.5zM315.57 248h1.5v1.5h-1.5zM294.37 253.9h1.5v1.5h-1.5zM282.8 260.59h1.5v1.5h-1.5zM309.83 248.28h1.5v1.5h-1.5zM286.79 252.79h1.5v1.5h-1.5zM268.74 268.77h1.5v1.5h-1.5zM276.15 263.85h1.5v1.5h-1.5zM320.18 248.6h1.5v1.5h-1.5zM292.19 253.29h1.5v1.5h-1.5zM273.45 258.11h1.5v1.5h-1.5zM270.14 269.99h1.5v1.5h-1.5zM319.69 247.57h1.5v1.5h-1.5zM291.19 257.13h1.5v1.5h-1.5zM274.6 259.23h1.5v1.5h-1.5zM329.56 243.77h1.5v1.5h-1.5zM270.05 255.59h1.5v1.5h-1.5zM306.23 251.04h1.5v1.5h-1.5zM283.25 256.88h1.5v1.5h-1.5zM273.2 256.16h1.5v1.5h-1.5zM289.91 252.52h1.5v1.5h-1.5zM291.56 252.46h1.5v1.5h-1.5zM270.83 267.32h1.5v1.5h-1.5zM292.12 250.9h1.5v1.5h-1.5zM301 253.92h1.5v1.5h-1.5zM295.7 256.63h1.5v1.5h-1.5zM285.84 257.68h1.5v1.5h-1.5zM295.5 251.9h1.5v1.5h-1.5zM318.98 249.81h1.5v1.5h-1.5zM287.41 253.49h1.5v1.5h-1.5z" fill="#2b2a86"/>
</g>
<rect x="212.6" y="203.6" width="130.7" height="80.8" fill="none" stroke="#111" stroke-width="1.1"/>
<line x1="217.9" y1="284.4" x2="217.9" y2="287.2" stroke="#111" stroke-width="0.9"/>
<text x="217.9" y="297.8" font-size="6.4" text-anchor="middle">0</text>
<line x1="228.03" y1="284.4" x2="228.03" y2="287.2" stroke="#111" stroke-width="0.9"/>
<text x="228.03" y="297.8" font-size="6.4" text-anchor="middle">1</text>
<line x1="238.16" y1="284.4" x2="238.16" y2="287.2" stroke="#111" stroke-width="0.9"/>
<text x="238.16" y="297.8" font-size="6.4" text-anchor="middle">2</text>
<line x1="248.29" y1="284.4" x2="248.29" y2="287.2" stroke="#111" stroke-width="0.9"/>
<text x="248.29" y="297.8" font-size="6.4" text-anchor="middle">3</text>
<line x1="258.42" y1="284.4" x2="258.42" y2="287.2" stroke="#111" stroke-width="0.9"/>
<text x="258.42" y="297.8" font-size="6.4" text-anchor="middle">4</text>
<line x1="268.55" y1="284.4" x2="268.55" y2="287.2" stroke="#111" stroke-width="0.9"/>
<text x="268.55" y="297.8" font-size="6.4" text-anchor="middle">5</text>
<line x1="278.68" y1="284.4" x2="278.68" y2="287.2" stroke="#111" stroke-width="0.9"/>
<text x="278.68" y="297.8" font-size="6.4" text-anchor="middle">6</text>
<line x1="288.81" y1="284.4" x2="288.81" y2="287.2" stroke="#111" stroke-width="0.9"/>
<text x="288.81" y="297.8" font-size="6.4" text-anchor="middle">7</text>
<line x1="298.94" y1="284.4" x2="298.94" y2="287.2" stroke="#111" stroke-width="0.9"/>
<text x="298.94" y="297.8" font-size="6.4" text-anchor="middle">8</text>
<line x1="309.07" y1="284.4" x2="309.07" y2="287.2" stroke="#111" stroke-width="0.9"/>
<text x="309.07" y="297.8" font-size="6.4" text-anchor="middle">9</text>
<line x1="319.2" y1="284.4" x2="319.2" y2="287.2" stroke="#111" stroke-width="0.9"/>
<text x="319.2" y="297.8" font-size="6.4" text-anchor="middle">10</text>
<line x1="329.33" y1="284.4" x2="329.33" y2="287.2" stroke="#111" stroke-width="0.9"/>
<text x="329.33" y="297.8" font-size="6.4" text-anchor="middle">11</text>
<line x1="339.46" y1="284.4" x2="339.46" y2="287.2" stroke="#111" stroke-width="0.9"/>
<text x="339.46" y="297.8" font-size="6.4" text-anchor="middle">12</text>
<line x1="209.6" y1="206.6" x2="212.6" y2="206.6" stroke="#111" stroke-width="0.9"/>
<line x1="209.6" y1="212.99" x2="212.6" y2="212.99" stroke="#111" stroke-width="0.9"/>
<line x1="209.6" y1="219.38" x2="212.6" y2="219.38" stroke="#111" stroke-width="0.9"/>
<line x1="209.6" y1="225.77" x2="212.6" y2="225.77" stroke="#111" stroke-width="0.9"/>
<line x1="209.6" y1="232.16" x2="212.6" y2="232.16" stroke="#111" stroke-width="0.9"/>
<line x1="209.6" y1="238.55" x2="212.6" y2="238.55" stroke="#111" stroke-width="0.9"/>
<line x1="209.6" y1="244.94" x2="212.6" y2="244.94" stroke="#111" stroke-width="0.9"/>
<line x1="209.6" y1="251.33" x2="212.6" y2="251.33" stroke="#111" stroke-width="0.9"/>
<line x1="209.6" y1="257.72" x2="212.6" y2="257.72" stroke="#111" stroke-width="0.9"/>
<line x1="209.6" y1="264.11" x2="212.6" y2="264.11" stroke="#111" stroke-width="0.9"/>
<line x1="209.6" y1="270.5" x2="212.6" y2="270.5" stroke="#111" stroke-width="0.9"/>
<line x1="209.6" y1="276.89" x2="212.6" y2="276.89" stroke="#111" stroke-width="0.9"/>
<line x1="209.6" y1="283.28" x2="212.6" y2="283.28" stroke="#111" stroke-width="0.9"/>
<text x="205.8" y="215.29" font-size="6.4" text-anchor="end">4</text>
<text x="205.8" y="228.07" font-size="6.4" text-anchor="end">2</text>
<text x="205.8" y="240.85" font-size="6.4" text-anchor="end">0</text>
<text x="205.8" y="253.63" font-size="6.4" text-anchor="end">–2</text>
<text x="205.8" y="266.41" font-size="6.4" text-anchor="end">–4</text>
<text x="205.8" y="279.19" font-size="6.4" text-anchor="end">–6</text>
<text x="196.8" y="182.9" font-size="12.4" font-weight="bold" fill="#111">E</text>
<text x="210.8" y="197.7" font-size="9.4" fill="#231f20" textLength="134" lengthAdjust="spacingAndGlyphs">AML<tspan font-size="7" font-style="italic" dy="-3.6">NPM1mut</tspan><tspan dy="3.6"> vs AML</tspan><tspan font-size="7" font-style="italic" dy="-3.6">NPM1wt</tspan><tspan dy="3.6">(101)</tspan></text>
<text x="17.2" y="113.4" font-size="10.2" textLength="57" lengthAdjust="spacingAndGlyphs" transform="rotate(-90 17.2 113.4)">log fold change</text>
<path d="M22.7 140.1V89.5M22.7 140.1H74" stroke="#231f20" stroke-width="1" fill="none"/>
<polygon points="22.7,86.5 20.4,92 25,92" fill="#231f20"/>
<polygon points="77.3,140.1 71.8,137.8 71.8,142.4" fill="#231f20"/>
<text x="43.5" y="152.4" font-size="10.2" textLength="64.5" lengthAdjust="spacingAndGlyphs">log concentration</text>
<text x="17" y="276.6" font-size="10.2" textLength="56.2" lengthAdjust="spacingAndGlyphs" transform="rotate(-90 17 276.6)">log fold change</text>
<path d="M22.5 304.3V252M22.5 304.3H77.5" stroke="#231f20" stroke-width="1" fill="none"/>
<polygon points="22.5,249 20.2,254.5 24.8,254.5" fill="#231f20"/>
<polygon points="80.8,304.3 75.3,302 75.3,306.6" fill="#231f20"/>
<text x="47.6" y="316.2" font-size="10.2" textLength="64.2" lengthAdjust="spacingAndGlyphs">log concentration</text>
<text x="373.5" y="183" font-size="12" font-weight="bold" fill="#111">F</text>
<clipPath id="cR"><circle cx="412.4" cy="218.6" r="29.6"/></clipPath>
<clipPath id="cB"><circle cx="458.6" cy="218.6" r="29.4"/></clipPath>
<clipPath id="cG"><circle cx="436.4" cy="263.1" r="29.4"/></clipPath>
<circle cx="412.4" cy="218.6" r="29.6" fill="#a60a2c"/>
<circle cx="458.6" cy="218.6" r="29.4" fill="#2f528f"/>
<circle cx="436.4" cy="263.1" r="29.4" fill="#5b9a37"/>
<g clip-path="url(#cR)">
<circle cx="458.6" cy="218.6" r="29.4" fill="#2a0512"/>
<circle cx="436.4" cy="263.1" r="29.4" fill="#4a0509"/>
</g>
<g clip-path="url(#cB)">
<circle cx="436.4" cy="263.1" r="29.4" fill="#0e3219"/>
</g>
<g clip-path="url(#cR)"><g clip-path="url(#cB)">
<circle cx="436.4" cy="263.1" r="29.4" fill="#160606"/>
</g></g>
<text x="392" y="207.5" font-size="6.9" fill="#f4eef0" textLength="28.6" lengthAdjust="spacingAndGlyphs">NBM<tspan font-size="4.5" dy="-2.6">all</tspan><tspan dy="2.6"> vs</tspan></text>
<text x="406.4" y="215.8" font-size="6.9" text-anchor="middle" fill="#f4eef0">AML</text>
<text x="406.4" y="230.2" font-size="6.9" text-anchor="middle" fill="#f4eef0">1934</text>
<text x="435.4" y="221.3" font-size="6.9" text-anchor="middle" fill="#f4eef0">128</text>
<text x="442" y="208" font-size="6.9" fill="#f4eef0" textLength="39.9" lengthAdjust="spacingAndGlyphs">AML<tspan font-size="4.5" font-style="italic" dy="-2.6">TET2mut</tspan><tspan dy="2.6">vs</tspan></text>
<text x="447.2" y="216.4" font-size="6.9" fill="#f4eef0" textLength="30.5" lengthAdjust="spacingAndGlyphs">AML<tspan font-size="4.5" font-style="italic" dy="-2.6">TET2wt</tspan></text>
<text x="462" y="230.2" font-size="6.9" text-anchor="middle" fill="#f4eef0">3070</text>
<text x="422.3" y="243.5" font-size="6.9" text-anchor="middle" fill="#f4eef0">2</text>
<text x="447.2" y="243.5" font-size="6.9" text-anchor="middle" fill="#f4eef0">10</text>
<text x="436.3" y="255.3" font-size="6.9" text-anchor="middle" fill="#f4eef0">89</text>
<text x="414.6" y="270" font-size="6.9" fill="#f4eef0" textLength="43.2" lengthAdjust="spacingAndGlyphs">AML<tspan font-size="4.5" font-style="italic" dy="-2.6">NPM1mut</tspan><tspan dy="2.6">vs</tspan></text>
<text x="419.7" y="278.2" font-size="6.9" fill="#f4eef0" textLength="33" lengthAdjust="spacingAndGlyphs">AML<tspan font-size="4.5" font-style="italic" dy="-2.6">NPM1wt</tspan></text>
<text x="8" y="350" font-size="12" font-weight="bold" fill="#111">G</text>
<rect x="40.2" y="360.2" width="11" height="15.99" fill="#8b1a3d"/>
<rect x="40.2" y="376.14" width="11" height="5.79" fill="#c0364c"/>
<rect x="40.2" y="381.88" width="11" height="4.93" fill="#d9613b"/>
<rect x="40.2" y="386.77" width="11" height="0.99" fill="#eba552"/>
<rect x="40.2" y="387.71" width="11" height="2.45" fill="#f1d67f"/>
<rect x="40.2" y="390.11" width="11" height="1.76" fill="#f8f2bb"/>
<rect x="40.2" y="391.82" width="11" height="2.96" fill="#e6e893"/>
<rect x="40.2" y="394.74" width="11" height="9.99" fill="#b6d49b"/>
<rect x="40.2" y="404.68" width="11" height="18.65" fill="#7cbf9d"/>
<rect x="40.2" y="423.28" width="11" height="0.74" fill="#3f80c3"/>
<rect x="40.2" y="423.96" width="11" height="21.99" fill="#584a9c"/>
<rect x="53.1" y="360.2" width="11" height="9.99" fill="#8b1a3d"/>
<rect x="53.1" y="370.14" width="11" height="5.02" fill="#c0364c"/>
<rect x="53.1" y="375.11" width="11" height="3.82" fill="#d9613b"/>
<rect x="53.1" y="378.88" width="11" height="0.91" fill="#eba552"/>
<rect x="53.1" y="379.74" width="11" height="1.76" fill="#f1d67f"/>
<rect x="53.1" y="381.45" width="11" height="2.02" fill="#f8f2bb"/>
<rect x="53.1" y="383.42" width="11" height="0.48" fill="#e6e893"/>
<rect x="53.1" y="383.85" width="11" height="32.62" fill="#b6d49b"/>
<rect x="53.1" y="416.42" width="11" height="0.31" fill="#7cbf9d"/>
<rect x="53.1" y="416.68" width="11" height="0.14" fill="#3f80c3"/>
<rect x="53.1" y="416.76" width="11" height="29.19" fill="#584a9c"/>
<rect x="66" y="360.2" width="11" height="64.5" fill="#8b1a3d"/>
<rect x="66" y="424.65" width="11" height="4.08" fill="#c0364c"/>
<rect x="66" y="428.67" width="11" height="0.48" fill="#d9613b"/>
<rect x="66" y="429.1" width="11" height="0.48" fill="#eba552"/>
<rect x="66" y="429.53" width="11" height="2.02" fill="#f1d67f"/>
<rect x="66" y="431.5" width="11" height="1.76" fill="#f8f2bb"/>
<rect x="66" y="433.22" width="11" height="0.99" fill="#e6e893"/>
<rect x="66" y="434.16" width="11" height="2.71" fill="#b6d49b"/>
<rect x="66" y="436.82" width="11" height="2.02" fill="#7cbf9d"/>
<rect x="66" y="438.79" width="11" height="0.31" fill="#3f80c3"/>
<rect x="66" y="439.04" width="11" height="6.91" fill="#584a9c"/>
<rect x="78.9" y="360.2" width="11" height="5.79" fill="#8b1a3d"/>
<rect x="78.9" y="365.94" width="11" height="3.39" fill="#c0364c"/>
<rect x="78.9" y="369.28" width="11" height="2.45" fill="#d9613b"/>
<rect x="78.9" y="371.68" width="11" height="0.99" fill="#eba552"/>
<rect x="78.9" y="372.63" width="11" height="1.34" fill="#f1d67f"/>
<rect x="78.9" y="373.91" width="11" height="1.42" fill="#f8f2bb"/>
<rect x="78.9" y="375.28" width="11" height="8.71" fill="#e6e893"/>
<rect x="78.9" y="383.94" width="11" height="20.7" fill="#b6d49b"/>
<rect x="78.9" y="404.59" width="11" height="41.36" fill="#584a9c"/>
<rect x="91.8" y="360.2" width="11" height="11.09" fill="#8b1a3d"/>
<rect x="91.8" y="371.24" width="11" height="4.42" fill="#c0364c"/>
<rect x="91.8" y="375.61" width="11" height="2.96" fill="#d9613b"/>
<rect x="91.8" y="378.52" width="11" height="0.48" fill="#eba552"/>
<rect x="91.8" y="378.95" width="11" height="2.96" fill="#f1d67f"/>
<rect x="91.8" y="381.86" width="11" height="2.7" fill="#f8f2bb"/>
<rect x="91.8" y="384.51" width="11" height="4.07" fill="#e6e893"/>
<rect x="91.8" y="388.54" width="11" height="9.38" fill="#b6d49b"/>
<rect x="91.8" y="397.87" width="11" height="20.68" fill="#7cbf9d"/>
<rect x="91.8" y="418.5" width="11" height="0.22" fill="#3f80c3"/>
<rect x="91.8" y="418.67" width="11" height="27.28" fill="#584a9c"/>
<rect x="104.7" y="360.2" width="11" height="15.77" fill="#8b1a3d"/>
<rect x="104.7" y="375.92" width="11" height="4.66" fill="#c0364c"/>
<rect x="104.7" y="380.54" width="11" height="3.13" fill="#d9613b"/>
<rect x="104.7" y="383.61" width="11" height="0.48" fill="#eba552"/>
<rect x="104.7" y="384.04" width="11" height="1.84" fill="#f1d67f"/>
<rect x="104.7" y="385.83" width="11" height="1.42" fill="#f8f2bb"/>
<rect x="104.7" y="387.2" width="11" height="1.42" fill="#e6e893"/>
<rect x="104.7" y="388.57" width="11" height="12.44" fill="#b6d49b"/>
<rect x="104.7" y="400.96" width="11" height="19.62" fill="#7cbf9d"/>
<rect x="104.7" y="420.52" width="11" height="0.22" fill="#3f80c3"/>
<rect x="104.7" y="420.69" width="11" height="25.26" fill="#584a9c"/>
<rect x="117.6" y="360.2" width="11" height="43.71" fill="#8b1a3d"/>
<rect x="117.6" y="403.86" width="11" height="4.67" fill="#c0364c"/>
<rect x="117.6" y="408.49" width="11" height="3.13" fill="#d9613b"/>
<rect x="117.6" y="411.57" width="11" height="0.48" fill="#eba552"/>
<rect x="117.6" y="412" width="11" height="1.85" fill="#f1d67f"/>
<rect x="117.6" y="413.79" width="11" height="1.42" fill="#f8f2bb"/>
<rect x="117.6" y="415.16" width="11" height="2.28" fill="#e6e893"/>
<rect x="117.6" y="417.39" width="11" height="5.1" fill="#b6d49b"/>
<rect x="117.6" y="422.44" width="11" height="9.13" fill="#7cbf9d"/>
<rect x="117.6" y="431.52" width="11" height="0.22" fill="#3f80c3"/>
<rect x="117.6" y="431.69" width="11" height="14.26" fill="#584a9c"/>
<rect x="130.5" y="360.2" width="11" height="7.06" fill="#8b1a3d"/>
<rect x="130.5" y="367.21" width="11" height="3.39" fill="#c0364c"/>
<rect x="130.5" y="370.55" width="11" height="3.13" fill="#d9613b"/>
<rect x="130.5" y="373.63" width="11" height="0.48" fill="#eba552"/>
<rect x="130.5" y="374.06" width="11" height="1.59" fill="#f1d67f"/>
<rect x="130.5" y="375.6" width="11" height="1.42" fill="#f8f2bb"/>
<rect x="130.5" y="376.96" width="11" height="1.93" fill="#e6e893"/>
<rect x="130.5" y="378.85" width="11" height="10.14" fill="#b6d49b"/>
<rect x="130.5" y="388.94" width="11" height="23.57" fill="#7cbf9d"/>
<rect x="130.5" y="412.46" width="11" height="0.22" fill="#3f80c3"/>
<rect x="130.5" y="412.63" width="11" height="33.32" fill="#584a9c"/>
<line x1="38.5" y1="359" x2="38.5" y2="447.2" stroke="#231f20" stroke-width="1.4"/>
<line x1="37.8" y1="446.6" x2="141.8" y2="446.6" stroke="#231f20" stroke-width="1.4"/>
<line x1="35.5" y1="360.2" x2="38.5" y2="360.2" stroke="#231f20" stroke-width="1"/>
<text x="32.4" y="362.4" font-size="6.2" text-anchor="end">100</text>
<line x1="35.5" y1="381.62" x2="38.5" y2="381.62" stroke="#231f20" stroke-width="1"/>
<text x="32.4" y="383.82" font-size="6.2" text-anchor="end">75</text>
<line x1="35.5" y1="403.05" x2="38.5" y2="403.05" stroke="#231f20" stroke-width="1"/>
<text x="32.4" y="405.25" font-size="6.2" text-anchor="end">50</text>
<line x1="35.5" y1="424.47" x2="38.5" y2="424.47" stroke="#231f20" stroke-width="1"/>
<text x="32.4" y="426.67" font-size="6.2" text-anchor="end">25</text>
<line x1="35.5" y1="445.9" x2="38.5" y2="445.9" stroke="#231f20" stroke-width="1"/>
<text x="32.4" y="448.1" font-size="6.2" text-anchor="end">0</text>
<line x1="45.7" y1="446.6" x2="45.7" y2="449.8" stroke="#231f20" stroke-width="0.9"/>
<text x="48" y="452.8" font-size="6.6" text-anchor="end" textLength="14.5" lengthAdjust="spacingAndGlyphs" transform="rotate(-90 48 452.8)">Gain</text>
<line x1="58.6" y1="446.6" x2="58.6" y2="449.8" stroke="#231f20" stroke-width="0.9"/>
<text x="60.9" y="452.8" font-size="6.6" text-anchor="end" textLength="13.8" lengthAdjust="spacingAndGlyphs" transform="rotate(-90 60.9 452.8)">Loss</text>
<line x1="71.5" y1="446.6" x2="71.5" y2="449.8" stroke="#231f20" stroke-width="0.9"/>
<text x="73.8" y="452.8" font-size="6.6" text-anchor="end" textLength="14.5" lengthAdjust="spacingAndGlyphs" transform="rotate(-90 73.8 452.8)">Gain</text>
<line x1="84.4" y1="446.6" x2="84.4" y2="449.8" stroke="#231f20" stroke-width="0.9"/>
<text x="86.7" y="452.8" font-size="6.6" text-anchor="end" textLength="13.8" lengthAdjust="spacingAndGlyphs" transform="rotate(-90 86.7 452.8)">Loss</text>
<line x1="97.3" y1="446.6" x2="97.3" y2="449.8" stroke="#231f20" stroke-width="0.9"/>
<text x="99.6" y="452.8" font-size="6.6" text-anchor="end" textLength="14.5" lengthAdjust="spacingAndGlyphs" transform="rotate(-90 99.6 452.8)">Gain</text>
<line x1="110.2" y1="446.6" x2="110.2" y2="449.8" stroke="#231f20" stroke-width="0.9"/>
<text x="112.5" y="452.8" font-size="6.6" text-anchor="end" textLength="13.8" lengthAdjust="spacingAndGlyphs" transform="rotate(-90 112.5 452.8)">Loss</text>
<line x1="123.1" y1="446.6" x2="123.1" y2="449.8" stroke="#231f20" stroke-width="0.9"/>
<text x="125.4" y="452.8" font-size="6.6" text-anchor="end" textLength="14.5" lengthAdjust="spacingAndGlyphs" transform="rotate(-90 125.4 452.8)">Gain</text>
<line x1="136" y1="446.6" x2="136" y2="449.8" stroke="#231f20" stroke-width="0.9"/>
<text x="138.3" y="452.8" font-size="6.6" text-anchor="end" textLength="13.8" lengthAdjust="spacingAndGlyphs" transform="rotate(-90 138.3 452.8)">Loss</text>
<line x1="40.4" y1="469.8" x2="62.3" y2="469.8" stroke="#231f20" stroke-width="0.9"/>
<line x1="65.8" y1="469.8" x2="86.6" y2="469.8" stroke="#231f20" stroke-width="0.9"/>
<line x1="91.2" y1="469.8" x2="110.8" y2="469.8" stroke="#231f20" stroke-width="0.9"/>
<line x1="117.3" y1="469.8" x2="138" y2="469.8" stroke="#231f20" stroke-width="0.9"/>
<text x="15.8" y="433.6" font-size="10" textLength="64.5" lengthAdjust="spacingAndGlyphs" transform="rotate(-90 15.8 433.6)">% CTCF binding site</text>
<text x="61.5" y="477" font-size="6.8" fill="#231f20" text-anchor="end" transform="rotate(-45 61.5 477)" textLength="28.5" lengthAdjust="spacingAndGlyphs">AML<tspan font-size="4.4" dy="-2.4">all</tspan><tspan dy="2.4"> vs</tspan></text>
<text x="61.6" y="488.8" font-size="6.8" fill="#231f20" text-anchor="end" transform="rotate(-45 61.6 488.8)" textLength="15" lengthAdjust="spacingAndGlyphs">NBM</text>
<text x="88.1" y="477" font-size="6.8" fill="#231f20" text-anchor="end" transform="rotate(-45 88.1 477)" textLength="39.5" lengthAdjust="spacingAndGlyphs">AML<tspan font-size="4.4" font-style="italic" dy="-2.4">TET2mut</tspan><tspan dy="2.4"> vs</tspan></text>
<text x="92.8" y="487.5" font-size="6.8" fill="#231f20" text-anchor="end" transform="rotate(-45 92.8 487.5)" textLength="31" lengthAdjust="spacingAndGlyphs">AML<tspan font-size="4.4" font-style="italic" dy="-2.4">TET2wt</tspan></text>
<text x="114.6" y="477" font-size="6.8" fill="#231f20" text-anchor="end" transform="rotate(-45 114.6 477)" textLength="40.5" lengthAdjust="spacingAndGlyphs">AML<tspan font-size="4.4" font-style="italic" dy="-2.4">TET2mut</tspan><tspan dy="2.4"> vs</tspan></text>
<text x="111.3" y="492" font-size="6.8" fill="#231f20" text-anchor="end" transform="rotate(-45 111.3 492)" textLength="15.5" lengthAdjust="spacingAndGlyphs">NBM</text>
<text x="142.4" y="477" font-size="6.8" fill="#231f20" text-anchor="end" transform="rotate(-45 142.4 477)" textLength="42" lengthAdjust="spacingAndGlyphs">AML<tspan font-size="4.4" font-style="italic" dy="-2.4">TET2wt</tspan><tspan dy="2.4"> vs</tspan></text>
<text x="137.8" y="492" font-size="6.8" fill="#231f20" text-anchor="end" transform="rotate(-45 137.8 492)" textLength="15.5" lengthAdjust="spacingAndGlyphs">NBM</text>
<text x="146.5" y="364.6" font-size="7.6" textLength="27.5" lengthAdjust="spacingAndGlyphs">Features</text>
<rect x="146.3" y="368" width="5.6" height="5.6" fill="#8b1a3d"/>
<text x="154.9" y="372.8" font-size="6.1">Promoter (&lt;=1kb)</text>
<rect x="146.3" y="375.3" width="5.6" height="5.6" fill="#c0364c"/>
<text x="154.9" y="380.1" font-size="6.1">Promoter (1–2kb)</text>
<rect x="146.3" y="382.6" width="5.6" height="5.6" fill="#d9613b"/>
<text x="154.9" y="387.4" font-size="6.1">Promoter (2–3kb)</text>
<rect x="146.3" y="389.9" width="5.6" height="5.6" fill="#eba552"/>
<text x="154.9" y="394.7" font-size="6.1">5' UTR</text>
<rect x="146.3" y="397.2" width="5.6" height="5.6" fill="#f1d67f"/>
<text x="154.9" y="402" font-size="6.1">3' UTR</text>
<rect x="146.3" y="404.5" width="5.6" height="5.6" fill="#f8f2bb"/>
<text x="154.9" y="409.3" font-size="6.1">1st Exon</text>
<rect x="146.3" y="411.8" width="5.6" height="5.6" fill="#e6e893"/>
<text x="154.9" y="416.6" font-size="6.1">Other Exon</text>
<rect x="146.3" y="419.1" width="5.6" height="5.6" fill="#b6d49b"/>
<text x="154.9" y="423.9" font-size="6.1">1st Intron</text>
<rect x="146.3" y="426.4" width="5.6" height="5.6" fill="#7cbf9d"/>
<text x="154.9" y="431.2" font-size="6.1">Other Intron</text>
<rect x="146.3" y="433.7" width="5.6" height="5.6" fill="#3f80c3"/>
<text x="154.9" y="438.5" font-size="6.1">Downstream (&lt;=300)</text>
<rect x="146.3" y="441" width="5.6" height="5.6" fill="#584a9c"/>
<text x="154.9" y="445.8" font-size="6.1">Distal Intergenic</text>
<text x="228.6" y="350.5" font-size="12" font-weight="bold" fill="#111">H</text>
<line x1="267.4" y1="369.3" x2="267.4" y2="447.8" stroke="#111" stroke-width="1.2"/>
<line x1="263.9" y1="447.1" x2="267.4" y2="447.1" stroke="#111" stroke-width="0.9"/>
<text x="260.9" y="449.6" font-size="7" text-anchor="end">0</text>
<line x1="263.9" y1="432.06" x2="267.4" y2="432.06" stroke="#111" stroke-width="0.9"/>
<text x="260.9" y="434.56" font-size="7" text-anchor="end">10</text>
<line x1="263.9" y1="417.02" x2="267.4" y2="417.02" stroke="#111" stroke-width="0.9"/>
<text x="260.9" y="419.52" font-size="7" text-anchor="end">20</text>
<line x1="263.9" y1="401.98" x2="267.4" y2="401.98" stroke="#111" stroke-width="0.9"/>
<text x="260.9" y="404.48" font-size="7" text-anchor="end">30</text>
<line x1="263.9" y1="386.94" x2="267.4" y2="386.94" stroke="#111" stroke-width="0.9"/>
<text x="260.9" y="389.44" font-size="7" text-anchor="end">40</text>
<line x1="263.9" y1="371.9" x2="267.4" y2="371.9" stroke="#111" stroke-width="0.9"/>
<text x="260.9" y="374.4" font-size="7" text-anchor="end">50</text>
<rect x="271" y="422.74" width="10.2" height="24.36" fill="#8b1a3d"/>
<rect x="287" y="434.02" width="9.8" height="13.08" fill="#bb344b"/>
<rect x="298.1" y="432.96" width="10.1" height="14.14" fill="#e5a95a"/>
<rect x="309.4" y="440.93" width="10.5" height="6.17" fill="#7dbf9b"/>
<rect x="326.1" y="372.05" width="10.2" height="75.05" fill="#bb344b"/>
<rect x="337.5" y="357.61" width="10.5" height="89.49" fill="#e5a95a"/>
<rect x="349.2" y="443.04" width="10.5" height="4.06" fill="#7dbf9b"/>
<line x1="266.8" y1="447.3" x2="364" y2="447.3" stroke="#111" stroke-width="1.3"/>
<text x="235.8" y="448" font-size="10" textLength="77.7" lengthAdjust="spacingAndGlyphs" transform="rotate(-90 235.8 448)">% of promoters that has</text>
<text x="247.6" y="426.9" font-size="10" textLength="41.4" lengthAdjust="spacingAndGlyphs" transform="rotate(-90 247.6 426.9)">a CTCF peak</text>
<line x1="411.4" y1="362.1" x2="411.4" y2="445.6" stroke="#111" stroke-width="1.2"/>
<line x1="408.2" y1="444.9" x2="411.4" y2="444.9" stroke="#111" stroke-width="0.9"/>
<text x="405" y="447.9" font-size="8.3" text-anchor="end">0</text>
<line x1="408.2" y1="431.55" x2="411.4" y2="431.55" stroke="#111" stroke-width="0.9"/>
<text x="405" y="434.55" font-size="8.3" text-anchor="end">2</text>
<line x1="408.2" y1="418.2" x2="411.4" y2="418.2" stroke="#111" stroke-width="0.9"/>
<text x="405" y="421.2" font-size="8.3" text-anchor="end">4</text>
<line x1="408.2" y1="404.85" x2="411.4" y2="404.85" stroke="#111" stroke-width="0.9"/>
<text x="405" y="407.85" font-size="8.3" text-anchor="end">6</text>
<line x1="408.2" y1="391.5" x2="411.4" y2="391.5" stroke="#111" stroke-width="0.9"/>
<text x="405" y="394.5" font-size="8.3" text-anchor="end">8</text>
<line x1="408.2" y1="378.15" x2="411.4" y2="378.15" stroke="#111" stroke-width="0.9"/>
<text x="405" y="381.15" font-size="8.3" text-anchor="end">10</text>
<line x1="408.2" y1="364.8" x2="411.4" y2="364.8" stroke="#111" stroke-width="0.9"/>
<text x="405" y="367.8" font-size="8.3" text-anchor="end">12</text>
<rect x="416" y="384.2" width="10.2" height="60.7" fill="#5f58a2"/>
<rect x="431.1" y="361.6" width="10.2" height="83.3" fill="#3a7a3b"/>
<rect x="442.9" y="358.1" width="10.3" height="86.8" fill="#6a2681"/>
<rect x="455" y="386.9" width="10.3" height="58" fill="#e0a1c4"/>
<rect x="470.7" y="393.7" width="10.2" height="51.2" fill="#3a7a3b"/>
<rect x="482.8" y="390.4" width="10.3" height="54.5" fill="#6a2681"/>
<rect x="495" y="409.8" width="10.2" height="35.1" fill="#e0a1c4"/>
<line x1="410.8" y1="445.2" x2="508" y2="445.2" stroke="#111" stroke-width="1.3"/>
<text x="389.6" y="449.7" font-size="10" textLength="91.7" lengthAdjust="spacingAndGlyphs" transform="rotate(-90 389.6 449.7)">% of CTCF peak in enhancers</text>
<text x="274.12" y="468.5" font-size="7" text-anchor="middle" textLength="34.3" lengthAdjust="spacingAndGlyphs" transform="rotate(-90 274.12 468.5)">All defined</text>
<text x="283.72" y="467.9" font-size="7" text-anchor="middle" textLength="18.2" lengthAdjust="spacingAndGlyphs" transform="rotate(-90 283.72 467.9)">peaks</text>
<text x="294.52" y="458.8" font-size="7" text-anchor="middle" textLength="15.4" lengthAdjust="spacingAndGlyphs" transform="rotate(-90 294.52 458.8)">Total</text>
<text x="305.52" y="459.5" font-size="7" text-anchor="middle" textLength="13.4" lengthAdjust="spacingAndGlyphs" transform="rotate(-90 305.52 459.5)">Gain</text>
<text x="317.42" y="458.8" font-size="7" text-anchor="middle" textLength="14.1" lengthAdjust="spacingAndGlyphs" transform="rotate(-90 317.42 458.8)">Loss</text>
<text x="333.92" y="458.8" font-size="7" text-anchor="middle" textLength="15.4" lengthAdjust="spacingAndGlyphs" transform="rotate(-90 333.92 458.8)">Total</text>
<text x="345.12" y="459.5" font-size="7" text-anchor="middle" textLength="13.4" lengthAdjust="spacingAndGlyphs" transform="rotate(-90 345.12 459.5)">Gain</text>
<text x="357.02" y="458.8" font-size="7" text-anchor="middle" textLength="14.1" lengthAdjust="spacingAndGlyphs" transform="rotate(-90 357.02 458.8)">Loss</text>
<line x1="285.6" y1="468.9" x2="320.8" y2="468.9" stroke="#111" stroke-width="0.9"/>
<line x1="325.6" y1="468.9" x2="361" y2="468.9" stroke="#111" stroke-width="0.9"/>
<text x="288.9" y="481.5" font-size="7" fill="#231f20" textLength="28.3" lengthAdjust="spacingAndGlyphs">AML<tspan font-size="4.5" dy="-2.8">all</tspan><tspan dy="2.8"> vs</tspan></text>
<text x="295.3" y="490.1" font-size="7" textLength="15.8" lengthAdjust="spacingAndGlyphs">NBM</text>
<text x="323" y="481.5" font-size="7" fill="#231f20" textLength="41.5" lengthAdjust="spacingAndGlyphs">AML<tspan font-size="4.5" font-style="italic" dy="-2.8">TET2mut</tspan><tspan dy="2.8"> vs</tspan></text>
<text x="328.4" y="490.1" font-size="7" fill="#231f20" textLength="29.3" lengthAdjust="spacingAndGlyphs">AML<tspan font-size="4.5" font-style="italic" dy="-2.8">TET2wt</tspan></text>
<text x="420.22" y="465.8" font-size="7" text-anchor="middle" textLength="34.5" lengthAdjust="spacingAndGlyphs" transform="rotate(-90 420.22 465.8)">All defined</text>
<text x="428.32" y="465.5" font-size="7" text-anchor="middle" textLength="17.7" lengthAdjust="spacingAndGlyphs" transform="rotate(-90 428.32 465.5)">peaks</text>
<text x="438.82" y="456.5" font-size="7" text-anchor="middle" textLength="14.7" lengthAdjust="spacingAndGlyphs" transform="rotate(-90 438.82 456.5)">Total</text>
<text x="450.92" y="456.5" font-size="7" text-anchor="middle" textLength="14" lengthAdjust="spacingAndGlyphs" transform="rotate(-90 450.92 456.5)">Gain</text>
<text x="462.02" y="456.5" font-size="7" text-anchor="middle" textLength="14.3" lengthAdjust="spacingAndGlyphs" transform="rotate(-90 462.02 456.5)">Loss</text>
<text x="478.82" y="456.5" font-size="7" text-anchor="middle" textLength="14.7" lengthAdjust="spacingAndGlyphs" transform="rotate(-90 478.82 456.5)">Total</text>
<text x="490.32" y="456.5" font-size="7" text-anchor="middle" textLength="14" lengthAdjust="spacingAndGlyphs" transform="rotate(-90 490.32 456.5)">Gain</text>
<text x="501.42" y="456.5" font-size="7" text-anchor="middle" textLength="14.3" lengthAdjust="spacingAndGlyphs" transform="rotate(-90 501.42 456.5)">Loss</text>
<line x1="431.8" y1="466.3" x2="468.6" y2="466.3" stroke="#111" stroke-width="0.9"/>
<line x1="473" y1="466.3" x2="508.6" y2="466.3" stroke="#111" stroke-width="0.9"/>
<text x="437.3" y="479.4" font-size="7" fill="#231f20" textLength="27.7" lengthAdjust="spacingAndGlyphs">AML<tspan font-size="4.5" dy="-2.8">all</tspan><tspan dy="2.8"> vs</tspan></text>
<text x="443.3" y="487.5" font-size="7" textLength="15.8" lengthAdjust="spacingAndGlyphs">NBM</text>
<text x="470.2" y="479.4" font-size="7" fill="#231f20" textLength="41.8" lengthAdjust="spacingAndGlyphs">AML<tspan font-size="4.5" font-style="italic" dy="-2.8">TET2mut</tspan><tspan dy="2.8"> vs</tspan></text>
<text x="475.7" y="487.5" font-size="7" fill="#231f20" textLength="29.3" lengthAdjust="spacingAndGlyphs">AML<tspan font-size="4.5" font-style="italic" dy="-2.8">TET2wt</tspan></text>
<text x="8.7" y="533.8" font-size="12" font-weight="bold" fill="#111">I</text>
<clipPath id="clipI"><rect x="35.6" y="541.8" width="156.2" height="125.6"/></clipPath>
<g clip-path="url(#clipI)">
<circle cx="62.9" cy="555.5" r="9.68" fill="#f0d00c" fill-opacity="0.7"/>
<circle cx="72.5" cy="550.7" r="9.24" fill="#e48e14" fill-opacity="0.7"/>
<circle cx="66.8" cy="549.7" r="8.03" fill="#e48e14" fill-opacity="0.7"/>
<circle cx="59" cy="557.4" r="7.04" fill="#f0dc60" fill-opacity="0.7"/>
<circle cx="76.4" cy="557.4" r="7.04" fill="#e48e14" fill-opacity="0.7"/>
<circle cx="68" cy="560" r="7.15" fill="#f0d00c" fill-opacity="0.7"/>
<circle cx="83.1" cy="568" r="7.7" fill="#e6a65a" fill-opacity="0.7"/>
<circle cx="88" cy="572.8" r="7.7" fill="#e48e14" fill-opacity="0.7"/>
<circle cx="91.8" cy="573.7" r="7.15" fill="#e6a65a" fill-opacity="0.7"/>
<circle cx="72.5" cy="575.7" r="4.4" fill="#5656ad" fill-opacity="0.6"/>
<circle cx="50.4" cy="574.6" r="7.7" fill="#8fbb55" fill-opacity="0.7"/>
<circle cx="61.9" cy="570.8" r="7.7" fill="#8fbb55" fill-opacity="0.7"/>
<circle cx="58" cy="578.5" r="6.05" fill="#8fbb55" fill-opacity="0.7"/>
<circle cx="69.6" cy="580.8" r="7.7" fill="#e48e14" fill-opacity="0.7"/>
<circle cx="68" cy="587.7" r="6.6" fill="#e48e14" fill-opacity="0.7"/>
<circle cx="76.5" cy="586" r="6.05" fill="#cbd232" fill-opacity="0.7"/>
<circle cx="90.4" cy="589.2" r="8.25" fill="#f0d00c" fill-opacity="0.7"/>
<circle cx="102.7" cy="587.7" r="6.6" fill="#e48e14" fill-opacity="0.7"/>
<circle cx="108.8" cy="590.8" r="6.6" fill="#e6a65a" fill-opacity="0.7"/>
<circle cx="96.5" cy="593.8" r="7.7" fill="#f0d00c" fill-opacity="0.7"/>
<circle cx="75" cy="601.5" r="7.7" fill="#8fbb55" fill-opacity="0.7"/>
<circle cx="85.8" cy="604.6" r="8.25" fill="#f0d00c" fill-opacity="0.7"/>
<circle cx="96.5" cy="603" r="7.7" fill="#f0d00c" fill-opacity="0.7"/>
<circle cx="104" cy="603" r="6.6" fill="#8fbb55" fill-opacity="0.7"/>
<circle cx="78" cy="610.4" r="8.25" fill="#f0d00c" fill-opacity="0.7"/>
<circle cx="87.3" cy="608.8" r="7.7" fill="#e48e14" fill-opacity="0.7"/>
<circle cx="96.5" cy="607.3" r="7.15" fill="#f0d00c" fill-opacity="0.7"/>
<circle cx="105.8" cy="615" r="6.6" fill="#cbd232" fill-opacity="0.7"/>
<circle cx="93.5" cy="613.5" r="6.6" fill="#e6a65a" fill-opacity="0.7"/>
<circle cx="89.6" cy="625" r="5.94" fill="#e6a65a" fill-opacity="0.7"/>
<circle cx="118.3" cy="603.8" r="6.6" fill="#e6a65a" fill-opacity="0.7"/>
<circle cx="101" cy="612" r="6.6" fill="#f0d00c" fill-opacity="0.7"/>
<circle cx="110" cy="610" r="5.5" fill="#e48e14" fill-opacity="0.7"/>
<circle cx="111" cy="617" r="6.05" fill="#cbd232" fill-opacity="0.7"/>
<circle cx="45.8" cy="622.7" r="7.7" fill="#f0d00c" fill-opacity="0.7"/>
<circle cx="48.8" cy="632" r="7.7" fill="#e48e14" fill-opacity="0.7"/>
<circle cx="62.7" cy="632" r="8.25" fill="#cbd232" fill-opacity="0.7"/>
<circle cx="48.8" cy="641" r="6.05" fill="#cbd232" fill-opacity="0.7"/>
<circle cx="55" cy="638" r="6.6" fill="#f0d00c" fill-opacity="0.7"/>
<circle cx="61" cy="647.3" r="7.7" fill="#8fbb55" fill-opacity="0.7"/>
<circle cx="70.4" cy="644.2" r="7.7" fill="#e48e14" fill-opacity="0.7"/>
<circle cx="79.6" cy="639.6" r="8.25" fill="#e48e14" fill-opacity="0.7"/>
<circle cx="84.2" cy="638" r="6.6" fill="#e6a65a" fill-opacity="0.7"/>
<circle cx="81.2" cy="650.4" r="6.6" fill="#f0d00c" fill-opacity="0.7"/>
<circle cx="68.8" cy="659.6" r="6.6" fill="#f0d00c" fill-opacity="0.7"/>
<circle cx="62.7" cy="655" r="6.6" fill="#f0d00c" fill-opacity="0.7"/>
<circle cx="73.5" cy="653.5" r="6.6" fill="#f0d00c" fill-opacity="0.7"/>
<circle cx="144.8" cy="591" r="7.04" fill="#f0d00c" fill-opacity="0.7"/>
<circle cx="145.7" cy="607.4" r="5.5" fill="#f0d00c" fill-opacity="0.7"/>
<circle cx="148.4" cy="605.6" r="4.95" fill="#a99a6a" fill-opacity="0.7"/>
<circle cx="158.5" cy="601" r="8.03" fill="#e48e14" fill-opacity="0.7"/>
<circle cx="154.8" cy="603.8" r="6.6" fill="#e48e14" fill-opacity="0.7"/>
<circle cx="160.3" cy="609.2" r="6.6" fill="#f0d00c" fill-opacity="0.7"/>
<circle cx="172" cy="606.5" r="6.05" fill="#5656ad" fill-opacity="0.8"/>
<circle cx="178" cy="607.5" r="5.72" fill="#5656ad" fill-opacity="0.75"/>
<circle cx="183" cy="608.5" r="4.95" fill="#5656ad" fill-opacity="0.6"/>
<circle cx="169" cy="607" r="5.5" fill="#f0d00c" fill-opacity="0.7"/>
<circle cx="175" cy="608" r="4.95" fill="#f0d00c" fill-opacity="0.7"/>
<circle cx="181" cy="609" r="4.4" fill="#f0d00c" fill-opacity="0.7"/>
<circle cx="185" cy="607.4" r="4.95" fill="#cbd232" fill-opacity="0.7"/>
<circle cx="165" cy="603" r="6.05" fill="#e48e14" fill-opacity="0.7"/>
<circle cx="150" cy="598" r="5.5" fill="#e48e14" fill-opacity="0.7"/>
<circle cx="123.8" cy="647.6" r="6.05" fill="#cbd232" fill-opacity="0.7"/>
</g>
<rect x="35.6" y="541.8" width="156.2" height="125.6" fill="none" stroke="#111" stroke-width="1.1"/>
<line x1="32" y1="567" x2="35.6" y2="567" stroke="#111" stroke-width="1"/>
<text x="29.8" y="569.8" font-size="7.9" text-anchor="end">5</text>
<line x1="32" y1="604.6" x2="35.6" y2="604.6" stroke="#111" stroke-width="1"/>
<text x="29.8" y="607.4" font-size="7.9" text-anchor="end">0</text>
<line x1="32" y1="642.2" x2="35.6" y2="642.2" stroke="#111" stroke-width="1"/>
<text x="29.8" y="645" font-size="7.9" text-anchor="end">–5</text>
<line x1="48" y1="667.4" x2="48" y2="670.8" stroke="#111" stroke-width="1"/>
<text x="48" y="681.3" font-size="7.9" text-anchor="middle">–5</text>
<line x1="97.5" y1="667.4" x2="97.5" y2="670.8" stroke="#111" stroke-width="1"/>
<text x="97.5" y="681.3" font-size="7.9" text-anchor="middle">0</text>
<line x1="147.5" y1="667.4" x2="147.5" y2="670.8" stroke="#111" stroke-width="1"/>
<text x="147.5" y="681.3" font-size="7.9" text-anchor="middle">5</text>
<text x="16.6" y="632.6" font-size="10.4" textLength="55.7" lengthAdjust="spacingAndGlyphs" transform="rotate(-90 16.6 632.6)">Semantic space x</text>
<text x="85.6" y="693.6" font-size="10.4" textLength="56.2" lengthAdjust="spacingAndGlyphs">Semantic space y</text>
<text x="142.7" y="551.3" font-size="7.4" fill="#111" textLength="46.8" lengthAdjust="spacingAndGlyphs">AML<tspan font-size="4.6" dy="-2.8">all</tspan><tspan dy="2.8"> vs NBM</tspan></text>
<text x="78.4" y="560.6" font-size="6.4" font-family='"Liberation Serif", serif' fill="#1e1e1e" textLength="86.2" lengthAdjust="spacingAndGlyphs">Positive regulation of gene expression</text>
<text x="66.6" y="582.8" font-size="6.4" font-family='"Liberation Serif", serif' fill="#1e1e1e" textLength="89.2" lengthAdjust="spacingAndGlyphs">Positive regulation of apoptotic process</text>
<text x="35.9" y="588.4" font-size="6.4" font-family='"Liberation Serif", serif' fill="#1e1e1e" textLength="71.9" lengthAdjust="spacingAndGlyphs">Positive regulation of cell death</text>
<text x="86.2" y="593.3" font-size="6.4" font-family='"Liberation Serif", serif' fill="#1e1e1e" textLength="77.1" lengthAdjust="spacingAndGlyphs">Positive regulation of GTPase activity</text>
<text x="84.9" y="598.2" font-size="6.4" font-family='"Liberation Serif", serif' fill="#1e1e1e" textLength="60.1" lengthAdjust="spacingAndGlyphs">Regulation of cell proliferation</text>
<text x="147" y="603.1" font-size="6.4" font-family='"Liberation Serif", serif' fill="#1e1e1e" textLength="43.1" lengthAdjust="spacingAndGlyphs">Cell differentiation</text>
<text x="159.1" y="608.6" font-size="6.4" font-family='"Liberation Serif", serif' fill="#1e1e1e" textLength="29.4" lengthAdjust="spacingAndGlyphs">Hemopoiesis</text>
<text x="151.6" y="615.5" font-size="6.4" font-family='"Liberation Serif", serif' fill="#1e1e1e" textLength="30.5" lengthAdjust="spacingAndGlyphs">Regulation of</text>
<text x="151.6" y="622.7" font-size="6.4" font-family='"Liberation Serif", serif' fill="#1e1e1e" textLength="38.5" lengthAdjust="spacingAndGlyphs">cell development</text>
<text x="101.2" y="615.5" font-size="6.4" font-family='"Liberation Serif", serif' fill="#1e1e1e" textLength="21.3" lengthAdjust="spacingAndGlyphs">Signaling</text>
<text x="38.8" y="626" font-size="6.4" font-family='"Liberation Serif", serif' fill="#1e1e1e" textLength="45.1" lengthAdjust="spacingAndGlyphs">Organization of cell</text>
<text x="38.8" y="633.1" font-size="6.4" font-family='"Liberation Serif", serif' fill="#1e1e1e" textLength="66.4" lengthAdjust="spacingAndGlyphs">communication and signaling</text>
<text x="116.6" y="643" font-size="6.4" font-family='"Liberation Serif", serif' fill="#1e1e1e" textLength="68" lengthAdjust="spacingAndGlyphs">Platelet-derived growth factor</text>
<text x="116.6" y="649.5" font-size="6.4" font-family='"Liberation Serif", serif' fill="#1e1e1e" textLength="61.1" lengthAdjust="spacingAndGlyphs">receptor signaling pathway</text>
<text x="38.2" y="653.1" font-size="6.4" font-family='"Liberation Serif", serif' fill="#1e1e1e" textLength="69.6" lengthAdjust="spacingAndGlyphs">Transmembrane receptor protein</text>
<text x="38.2" y="659.6" font-size="6.4" font-family='"Liberation Serif", serif' fill="#1e1e1e" textLength="76.1" lengthAdjust="spacingAndGlyphs">tyrosine kinase signaling pathway</text>
<text x="194.9" y="553.9" font-size="7.6" fill="#231f20" textLength="42.8" lengthAdjust="spacingAndGlyphs">log10 <tspan font-style="italic">P</tspan>-value</text>
<linearGradient id="gI" x1="0" y1="0" x2="0" y2="1"><stop offset="0" stop-color="#d7191c"/><stop offset="0.22" stop-color="#ef8a1f"/><stop offset="0.45" stop-color="#eede1a"/><stop offset="0.68" stop-color="#7fbf3f"/><stop offset="0.85" stop-color="#4f7fb0"/><stop offset="1" stop-color="#4b3aa0"/></linearGradient>
<rect x="194.9" y="561.5" width="4" height="37.1" fill="url(#gI)"/>
<text x="200.9" y="564.6" font-size="6.4">0.0</text>
<text x="200.9" y="574.1" font-size="6.4">–2.5</text>
<text x="200.9" y="583.7" font-size="6.4">–5.0</text>
<text x="200.9" y="593.6" font-size="6.4">–7.5</text>
<text x="194.9" y="610" font-size="7.8" textLength="26.5" lengthAdjust="spacingAndGlyphs">Plot size</text>
<circle cx="201.9" cy="620.5" r="5.4" fill="#1e1e1e"/>
<text x="201.9" y="623.1" font-size="7.2" text-anchor="middle" fill="#ffffff">2</text>
<circle cx="201.9" cy="636" r="7" fill="#1e1e1e"/>
<text x="201.9" y="638.6" font-size="7.2" text-anchor="middle" fill="#ffffff">3</text>
<circle cx="201.9" cy="655.3" r="8.5" fill="#1e1e1e"/>
<text x="201.9" y="657.9" font-size="7.2" text-anchor="middle" fill="#ffffff">4</text>
<text x="255.2" y="534.4" font-size="12" font-weight="bold" fill="#111">J</text>
<clipPath id="clipJ"><rect x="282.1" y="541.2" width="157.2" height="126.1"/></clipPath>
<g clip-path="url(#clipJ)">
<circle cx="297.4" cy="567.3" r="9.35" fill="#f0d00c" fill-opacity="0.7"/>
<circle cx="294.3" cy="578" r="9.35" fill="#f0d00c" fill-opacity="0.7"/>
<circle cx="300.5" cy="585.8" r="8.25" fill="#cbd232" fill-opacity="0.7"/>
<circle cx="288" cy="576.5" r="5.5" fill="#5656ad" fill-opacity="0.7"/>
<circle cx="311.2" cy="564.2" r="7.7" fill="#cbd232" fill-opacity="0.7"/>
<circle cx="317.4" cy="567.3" r="9.35" fill="#f0d00c" fill-opacity="0.7"/>
<circle cx="306.6" cy="572" r="7.7" fill="#f0d00c" fill-opacity="0.7"/>
<circle cx="319" cy="578" r="7.7" fill="#f0d00c" fill-opacity="0.7"/>
<circle cx="323.5" cy="573.5" r="8.25" fill="#e48e14" fill-opacity="0.7"/>
<circle cx="328.2" cy="564.2" r="7.7" fill="#cbd232" fill-opacity="0.7"/>
<circle cx="332.8" cy="576.5" r="8.25" fill="#e48e14" fill-opacity="0.7"/>
<circle cx="340.5" cy="570.4" r="7.7" fill="#f0d00c" fill-opacity="0.7"/>
<circle cx="343.5" cy="581.2" r="7.15" fill="#f0dc60" fill-opacity="0.7"/>
<circle cx="323.5" cy="590.4" r="7.7" fill="#5656ad" fill-opacity="0.7"/>
<circle cx="335.8" cy="593.5" r="8.47" fill="#5656ad" fill-opacity="0.7"/>
<circle cx="322" cy="601.2" r="8.47" fill="#5656ad" fill-opacity="0.7"/>
<circle cx="309.7" cy="608.8" r="8.47" fill="#5656ad" fill-opacity="0.7"/>
<circle cx="315.8" cy="616.5" r="8.47" fill="#8888c6" fill-opacity="0.7"/>
<circle cx="332.8" cy="587.3" r="6.6" fill="#8888c6" fill-opacity="0.7"/>
<circle cx="337.4" cy="610.4" r="7.7" fill="#e6a65a" fill-opacity="0.7"/>
<circle cx="351.2" cy="602.7" r="7.7" fill="#e6a65a" fill-opacity="0.7"/>
<circle cx="357.4" cy="588.8" r="6.6" fill="#e48e14" fill-opacity="0.7"/>
<circle cx="351.2" cy="627.3" r="6.6" fill="#f0dc60" fill-opacity="0.7"/>
<circle cx="357.4" cy="564.2" r="6.05" fill="#e6a65a" fill-opacity="0.7"/>
<circle cx="395.9" cy="548.2" r="7.15" fill="#e6a65a" fill-opacity="0.7"/>
<circle cx="404" cy="553" r="8.14" fill="#f0d00c" fill-opacity="0.7"/>
<circle cx="415.5" cy="549.8" r="8.14" fill="#f0d00c" fill-opacity="0.7"/>
<circle cx="423.7" cy="556.4" r="8.8" fill="#e48e14" fill-opacity="0.7"/>
<circle cx="430.2" cy="549.8" r="7.15" fill="#e48e14" fill-opacity="0.7"/>
<circle cx="409" cy="561.2" r="5.5" fill="#8fbb55" fill-opacity="0.7"/>
<circle cx="417" cy="563" r="6.6" fill="#e48e14" fill-opacity="0.7"/>
<circle cx="426" cy="545" r="5.5" fill="#f0d00c" fill-opacity="0.7"/>
<circle cx="388.5" cy="573.5" r="8.14" fill="#8fbb55" fill-opacity="0.7"/>
<circle cx="400.8" cy="579.2" r="8.8" fill="#e48e14" fill-opacity="0.7"/>
<circle cx="412.2" cy="579.2" r="7.7" fill="#f0d00c" fill-opacity="0.7"/>
<circle cx="407.3" cy="584.1" r="7.15" fill="#e48e14" fill-opacity="0.7"/>
<circle cx="359.9" cy="589" r="8.8" fill="#f0d00c" fill-opacity="0.7"/>
<circle cx="366.4" cy="582.5" r="7.15" fill="#e48e14" fill-opacity="0.7"/>
<circle cx="376.3" cy="594" r="7.7" fill="#f0d00c" fill-opacity="0.7"/>
<circle cx="387.7" cy="590.7" r="7.7" fill="#e48e14" fill-opacity="0.7"/>
<circle cx="396" cy="594" r="7.7" fill="#f0d00c" fill-opacity="0.7"/>
<circle cx="420.4" cy="605.4" r="7.15" fill="#e48e14" fill-opacity="0.7"/>
<circle cx="404" cy="608.7" r="7.7" fill="#e48e14" fill-opacity="0.7"/>
<circle cx="394.2" cy="608.7" r="7.7" fill="#e48e14" fill-opacity="0.7"/>
<circle cx="379.5" cy="602" r="7.7" fill="#f0d00c" fill-opacity="0.7"/>
<circle cx="371.3" cy="613.6" r="7.15" fill="#f0d00c" fill-opacity="0.7"/>
<circle cx="358.3" cy="603.8" r="7.15" fill="#f0d00c" fill-opacity="0.7"/>
<circle cx="387.7" cy="616.9" r="6.6" fill="#f0d00c" fill-opacity="0.7"/>
<circle cx="345.8" cy="601.5" r="6.6" fill="#f0d00c" fill-opacity="0.7"/>
<circle cx="336.3" cy="612" r="6.6" fill="#f0d00c" fill-opacity="0.7"/>
<circle cx="370.2" cy="614.2" r="7.15" fill="#f0d00c" fill-opacity="0.7"/>
<circle cx="395.5" cy="624.8" r="7.15" fill="#f0dc60" fill-opacity="0.7"/>
<circle cx="393.4" cy="620.6" r="6.6" fill="#f0d00c" fill-opacity="0.7"/>
<circle cx="380.7" cy="629" r="7.15" fill="#cbd232" fill-opacity="0.7"/>
<circle cx="385" cy="635.4" r="7.15" fill="#8fbb55" fill-opacity="0.7"/>
<circle cx="371.2" cy="635.4" r="6.6" fill="#e48e14" fill-opacity="0.7"/>
<circle cx="343.7" cy="643.8" r="6.6" fill="#cbd232" fill-opacity="0.7"/>
<circle cx="351.1" cy="641.7" r="7.15" fill="#e48e14" fill-opacity="0.7"/>
<circle cx="357.5" cy="645" r="7.15" fill="#e48e14" fill-opacity="0.7"/>
<circle cx="366" cy="646" r="7.15" fill="#e48e14" fill-opacity="0.7"/>
<circle cx="356.4" cy="639.6" r="5.5" fill="#5656ad" fill-opacity="0.7"/>
<circle cx="372.3" cy="651.2" r="7.15" fill="#e48e14" fill-opacity="0.7"/>
<circle cx="380.7" cy="652.3" r="7.15" fill="#e48e14" fill-opacity="0.7"/>
<circle cx="391.3" cy="643.8" r="7.7" fill="#f0d00c" fill-opacity="0.7"/>
<circle cx="393.4" cy="652.3" r="7.15" fill="#f0d00c" fill-opacity="0.7"/>
<circle cx="399.8" cy="648" r="6.6" fill="#f0d00c" fill-opacity="0.7"/>
<circle cx="387" cy="658.6" r="6.6" fill="#f0d00c" fill-opacity="0.7"/>
<circle cx="399.8" cy="641.7" r="4.4" fill="#5656ad" fill-opacity="0.7"/>
<circle cx="362" cy="655" r="6.6" fill="#f0d00c" fill-opacity="0.7"/>
</g>
<rect x="282.1" y="541.2" width="157.2" height="126.1" fill="none" stroke="#111" stroke-width="1.1"/>
<line x1="278.5" y1="548.8" x2="282.1" y2="548.8" stroke="#111" stroke-width="1"/>
<text x="276.4" y="551.6" font-size="7.9" text-anchor="end">5</text>
<line x1="278.5" y1="592.6" x2="282.1" y2="592.6" stroke="#111" stroke-width="1"/>
<text x="276.4" y="595.4" font-size="7.9" text-anchor="end">0</text>
<line x1="278.5" y1="636.7" x2="282.1" y2="636.7" stroke="#111" stroke-width="1"/>
<text x="276.4" y="639.5" font-size="7.9" text-anchor="end">–5</text>
<line x1="323.1" y1="667.3" x2="323.1" y2="670.7" stroke="#111" stroke-width="1"/>
<text x="323.1" y="680.6" font-size="7.9" text-anchor="middle">–5</text>
<line x1="373.5" y1="667.3" x2="373.5" y2="670.7" stroke="#111" stroke-width="1"/>
<text x="373.5" y="680.6" font-size="7.9" text-anchor="middle">0</text>
<line x1="424.8" y1="667.3" x2="424.8" y2="670.7" stroke="#111" stroke-width="1"/>
<text x="424.8" y="680.6" font-size="7.9" text-anchor="middle">5</text>
<text x="263.6" y="632.4" font-size="10.4" textLength="54.8" lengthAdjust="spacingAndGlyphs" transform="rotate(-90 263.6 632.4)">Semantic space x</text>
<text x="332.7" y="693.2" font-size="10.4" textLength="55.8" lengthAdjust="spacingAndGlyphs">Semantic space y</text>
<text x="285.2" y="551.1" font-size="7.4" fill="#111" textLength="75.8" lengthAdjust="spacingAndGlyphs">AML<tspan font-size="4.6" font-style="italic" dy="-2.8">TET2mut</tspan><tspan dy="2.8"> vs AML</tspan><tspan font-size="4.6" font-style="italic" dy="-2.8">TET2wt</tspan></text>
<text x="394.5" y="549" font-size="6.4" font-family='"Liberation Serif", serif' fill="#1e1e1e" textLength="43" lengthAdjust="spacingAndGlyphs">Cell differentiation</text>
<text x="375.4" y="559.8" font-size="6.4" font-family='"Liberation Serif", serif' fill="#1e1e1e" textLength="59.1" lengthAdjust="spacingAndGlyphs">Hematopoietic or lymphoid</text>
<text x="375.4" y="566.3" font-size="6.4" font-family='"Liberation Serif", serif' fill="#1e1e1e" textLength="40" lengthAdjust="spacingAndGlyphs">organ development</text>
<text x="350.2" y="567.8" font-size="6.4" font-family='"Liberation Serif", serif' fill="#1e1e1e" textLength="17.5" lengthAdjust="spacingAndGlyphs">Histone</text>
<text x="345.2" y="574.3" font-size="6.4" font-family='"Liberation Serif", serif' fill="#1e1e1e" textLength="28.6" lengthAdjust="spacingAndGlyphs">modification</text>
<text x="401.5" y="578.6" font-size="6.4" font-family='"Liberation Serif", serif' fill="#1e1e1e" textLength="21.5" lengthAdjust="spacingAndGlyphs">Signaling</text>
<text x="283" y="582.9" font-size="6.4" font-family='"Liberation Serif", serif' fill="#1e1e1e" textLength="81.6" lengthAdjust="spacingAndGlyphs">Negative regulation of transcription</text>
<text x="367.7" y="585.3" font-size="6.4" font-family='"Liberation Serif", serif' fill="#1e1e1e" textLength="68.6" lengthAdjust="spacingAndGlyphs">Regulation of GTPase activity</text>
<text x="283.7" y="589.3" font-size="6.4" font-family='"Liberation Serif", serif' fill="#1e1e1e" textLength="79.4" lengthAdjust="spacingAndGlyphs">from RNA polymerase II promoter</text>
<text x="370.8" y="590.9" font-size="6.4" font-family='"Liberation Serif", serif' fill="#1e1e1e" textLength="22.4" lengthAdjust="spacingAndGlyphs">Cell death</text>
<text x="369.2" y="597" font-size="6.4" font-family='"Liberation Serif", serif' fill="#1e1e1e" textLength="53" lengthAdjust="spacingAndGlyphs">Regulation of cell cycle</text>
<text x="355.4" y="601.9" font-size="6.4" font-family='"Liberation Serif", serif' fill="#1e1e1e" textLength="42.1" lengthAdjust="spacingAndGlyphs">Apoptotic process</text>
<text x="283.7" y="602.6" font-size="6.4" font-family='"Liberation Serif", serif' fill="#1e1e1e" textLength="68.6" lengthAdjust="spacingAndGlyphs">Regulation of cellular process</text>
<text x="365.5" y="606.9" font-size="6.4" font-family='"Liberation Serif", serif' fill="#1e1e1e" textLength="47.4" lengthAdjust="spacingAndGlyphs">Regulation of growth</text>
<text x="350.8" y="612.4" font-size="6.4" font-family='"Liberation Serif", serif' fill="#1e1e1e" textLength="76.3" lengthAdjust="spacingAndGlyphs">Regulation of molecular function</text>
<text x="349" y="655.5" font-size="6.4" font-family='"Liberation Serif", serif' fill="#1e1e1e" textLength="89.9" lengthAdjust="spacingAndGlyphs">Regulation of Notch signaling pathway</text>
<text x="377" y="664" font-size="6.4" font-family='"Liberation Serif", serif' fill="#1e1e1e" textLength="51.3" lengthAdjust="spacingAndGlyphs">Wnt signaling pathway</text>
<text x="442.5" y="547.1" font-size="7.6" fill="#231f20" textLength="42.8" lengthAdjust="spacingAndGlyphs">log10 <tspan font-style="italic">P</tspan>-value</text>
<linearGradient id="gJ" x1="0" y1="0" x2="0" y2="1"><stop offset="0" stop-color="#d7191c"/><stop offset="0.22" stop-color="#ef8a1f"/><stop offset="0.45" stop-color="#eede1a"/><stop offset="0.68" stop-color="#7fbf3f"/><stop offset="0.85" stop-color="#4f7fb0"/><stop offset="1" stop-color="#4b3aa0"/></linearGradient>
<rect x="444.7" y="551.7" width="4.8" height="42.6" fill="url(#gJ)"/>
<text x="450.6" y="555.6" font-size="6.4">0.0</text>
<text x="450.6" y="562.9" font-size="6.4">–2.5</text>
<text x="450.6" y="570.2" font-size="6.4">–5.0</text>
<text x="450.6" y="578.3" font-size="6.4">–7.5</text>
<text x="450.6" y="585.8" font-size="6.4">–10.0</text>
<text x="450.6" y="593.9" font-size="6.4">–12.5</text>
<text x="443.3" y="603.7" font-size="7.8" textLength="26.5" lengthAdjust="spacingAndGlyphs">Plot size</text>
<circle cx="450.6" cy="609.7" r="3.3" fill="#1e1e1e"/>
<text x="450.6" y="611.4" font-size="4.8" text-anchor="middle" fill="#ffffff">1</text>
<circle cx="450.6" cy="621.8" r="5.9" fill="#1e1e1e"/>
<text x="450.6" y="624.4" font-size="7.2" text-anchor="middle" fill="#ffffff">2</text>
<circle cx="450.6" cy="638.8" r="8" fill="#1e1e1e"/>
<text x="450.6" y="641.4" font-size="7.2" text-anchor="middle" fill="#ffffff">3</text>
<circle cx="450.6" cy="659.8" r="9.3" fill="#1e1e1e"/>
<text x="450.6" y="662.4" font-size="7.2" text-anchor="middle" fill="#ffffff">4</text>
<rect x="0.65" y="0.65" width="518.7" height="702.7" fill="none" stroke="#000" stroke-width="1.3"/>
</svg></body></html>
